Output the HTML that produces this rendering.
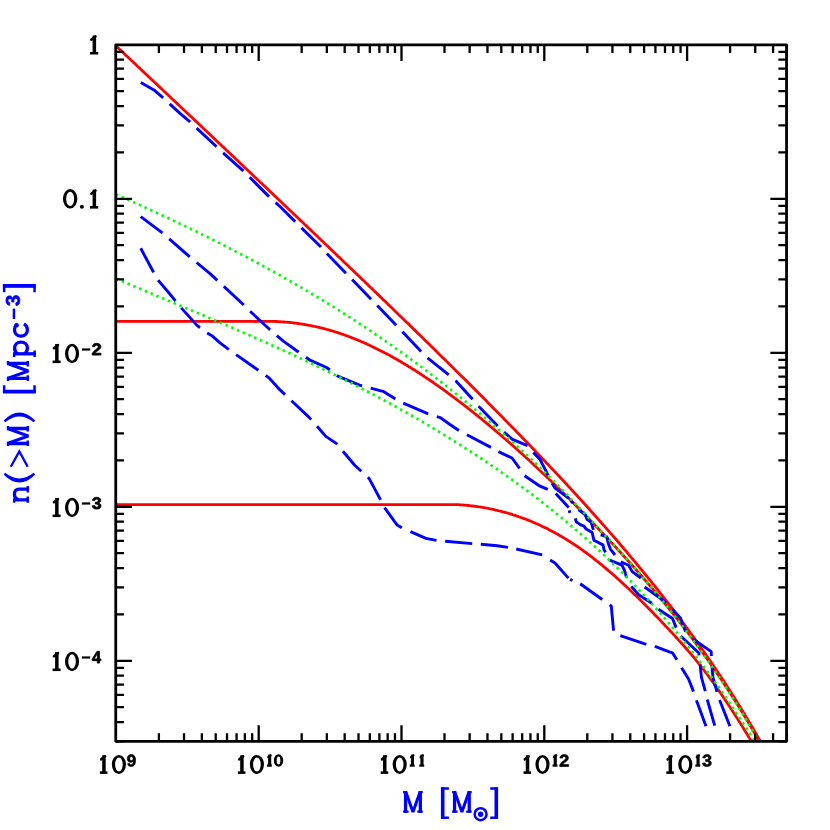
<!DOCTYPE html>
<html><head><meta charset="utf-8"><title>n(&gt;M)</title>
<style>html,body{margin:0;padding:0;background:#fff}svg{display:block}</style></head>
<body>
<svg width="830" height="830" viewBox="0 0 830 830">
<rect width="830" height="830" fill="#fff"/>
<clipPath id="c"><rect x="115.75" y="44.9" width="670.8" height="696.45"/></clipPath>
<g clip-path="url(#c)">
<path d="M116.0,45.9 L117.0,46.9 L118.0,47.8 L119.0,48.8 L120.0,49.7 L121.0,50.6 L122.0,51.6 L123.0,52.5 L124.0,53.5 L125.0,54.4 L126.0,55.4 L127.0,56.3 L128.0,57.2 L129.0,58.2 L130.0,59.1 L131.0,60.1 L132.0,61.0 L133.0,61.9 L134.0,62.9 L135.0,63.8 L136.0,64.8 L137.0,65.7 L138.0,66.7 L139.0,67.6 L140.0,68.5 L141.0,69.5 L142.0,70.4 L143.0,71.4 L144.0,72.3 L145.0,73.3 L146.0,74.2 L147.0,75.1 L148.0,76.1 L149.0,77.0 L150.0,78.0 L151.0,78.9 L152.0,79.9 L153.0,80.8 L154.0,81.7 L155.0,82.7 L156.0,83.6 L157.0,84.6 L158.0,85.5 L159.0,86.5 L160.0,87.4 L161.0,88.3 L162.0,89.3 L163.0,90.2 L164.0,91.2 L165.0,92.1 L166.0,93.1 L167.0,94.0 L168.0,94.9 L169.0,95.9 L170.0,96.8 L171.0,97.8 L172.0,98.7 L173.0,99.7 L174.0,100.6 L175.0,101.5 L176.0,102.5 L177.0,103.4 L178.0,104.4 L179.0,105.3 L180.0,106.3 L181.0,107.2 L182.0,108.2 L183.0,109.1 L184.0,110.0 L185.0,111.0 L186.0,111.9 L187.0,112.9 L188.0,113.8 L189.0,114.8 L190.0,115.7 L191.0,116.6 L192.0,117.6 L193.0,118.5 L194.0,119.5 L195.0,120.4 L196.0,121.4 L197.0,122.3 L198.0,123.3 L199.0,124.2 L200.0,125.1 L201.0,126.1 L202.0,127.0 L203.0,128.0 L204.0,128.9 L205.0,129.9 L206.0,130.8 L207.0,131.8 L208.0,132.7 L209.0,133.6 L210.0,134.6 L211.0,135.5 L212.0,136.5 L213.0,137.4 L214.0,138.4 L215.0,139.3 L216.0,140.3 L217.0,141.2 L218.0,142.2 L219.0,143.1 L220.0,144.0 L221.0,145.0 L222.0,145.9 L223.0,146.9 L224.0,147.8 L225.0,148.8 L226.0,149.7 L227.0,150.7 L228.0,151.6 L229.0,152.6 L230.0,153.5 L231.0,154.4 L232.0,155.4 L233.0,156.3 L234.0,157.3 L235.0,158.2 L236.0,159.2 L237.0,160.1 L238.0,161.1 L239.0,162.0 L240.0,163.0 L241.0,163.9 L242.0,164.9 L243.0,165.8 L244.0,166.7 L245.0,167.7 L246.0,168.6 L247.0,169.6 L248.0,170.5 L249.0,171.5 L250.0,172.4 L251.0,173.4 L252.0,174.3 L253.0,175.3 L254.0,176.2 L255.0,177.2 L256.0,178.1 L257.0,179.1 L258.0,180.0 L259.0,181.0 L260.0,181.9 L261.0,182.9 L262.0,183.8 L263.0,184.8 L264.0,185.7 L265.0,186.6 L266.0,187.6 L267.0,188.5 L268.0,189.5 L269.0,190.4 L270.0,191.4 L271.0,192.3 L272.0,193.3 L273.0,194.2 L274.0,195.2 L275.0,196.1 L276.0,197.1 L277.0,198.0 L278.0,199.0 L279.0,199.9 L280.0,200.9 L281.0,201.8 L282.0,202.8 L283.0,203.7 L284.0,204.7 L285.0,205.6 L286.0,206.6 L287.0,207.5 L288.0,208.5 L289.0,209.4 L290.0,210.4 L291.0,211.3 L292.0,212.3 L293.0,213.2 L294.0,214.2 L295.0,215.1 L296.0,216.1 L297.0,217.0 L298.0,218.0 L299.0,218.9 L300.0,219.9 L301.0,220.9 L302.0,221.8 L303.0,222.8 L304.0,223.7 L305.0,224.7 L306.0,225.6 L307.0,226.6 L308.0,227.5 L309.0,228.5 L310.0,229.4 L311.0,230.4 L312.0,231.3 L313.0,232.3 L314.0,233.2 L315.0,234.2 L316.0,235.1 L317.0,236.1 L318.0,237.1 L319.0,238.0 L320.0,239.0 L321.0,239.9 L322.0,240.9 L323.0,241.8 L324.0,242.8 L325.0,243.7 L326.0,244.7 L327.0,245.6 L328.0,246.6 L329.0,247.6 L330.0,248.5 L331.0,249.5 L332.0,250.4 L333.0,251.4 L334.0,252.3 L335.0,253.3 L336.0,254.2 L337.0,255.2 L338.0,256.2 L339.0,257.1 L340.0,258.1 L341.0,259.0 L342.0,260.0 L343.0,260.9 L344.0,261.9 L345.0,262.9 L346.0,263.8 L347.0,264.8 L348.0,265.7 L349.0,266.7 L350.0,267.7 L351.0,268.6 L352.0,269.6 L353.0,270.5 L354.0,271.5 L355.0,272.4 L356.0,273.4 L357.0,274.4 L358.0,275.3 L359.0,276.3 L360.0,277.2 L361.0,278.2 L362.0,279.2 L363.0,280.1 L364.0,281.1 L365.0,282.1 L366.0,283.0 L367.0,284.0 L368.0,284.9 L369.0,285.9 L370.0,286.9 L371.0,287.8 L372.0,288.8 L373.0,289.8 L374.0,290.7 L375.0,291.7 L376.0,292.6 L377.0,293.6 L378.0,294.6 L379.0,295.5 L380.0,296.5 L381.0,297.5 L382.0,298.4 L383.0,299.4 L384.0,300.4 L385.0,301.3 L386.0,302.3 L387.0,303.3 L388.0,304.2 L389.0,305.2 L390.0,306.2 L391.0,307.1 L392.0,308.1 L393.0,309.1 L394.0,310.0 L395.0,311.0 L396.0,312.0 L397.0,312.9 L398.0,313.9 L399.0,314.9 L400.0,315.9 L401.0,316.8 L402.0,317.8 L403.0,318.8 L404.0,319.7 L405.0,320.7 L406.0,321.7 L407.0,322.6 L408.0,323.6 L409.0,324.6 L410.0,325.6 L411.0,326.5 L412.0,327.5 L413.0,328.5 L414.0,329.5 L415.0,330.4 L416.0,331.4 L417.0,332.4 L418.0,333.4 L419.0,334.3 L420.0,335.3 L421.0,336.3 L422.0,337.3 L423.0,338.2 L424.0,339.2 L425.0,340.2 L426.0,341.2 L427.0,342.2 L428.0,343.1 L429.0,344.1 L430.0,345.1 L431.0,346.1 L432.0,347.0 L433.0,348.0 L434.0,349.0 L435.0,350.0 L436.0,351.0 L437.0,352.0 L438.0,352.9 L439.0,353.9 L440.0,354.9 L441.0,355.9 L442.0,356.9 L443.0,357.9 L444.0,358.8 L445.0,359.8 L446.0,360.8 L447.0,361.8 L448.0,362.8 L449.0,363.8 L450.0,364.8 L451.0,365.7 L452.0,366.7 L453.0,367.7 L454.0,368.7 L455.0,369.7 L456.0,370.7 L457.0,371.7 L458.0,372.7 L459.0,373.7 L460.0,374.7 L461.0,375.7 L462.0,376.6 L463.0,377.6 L464.0,378.6 L465.0,379.6 L466.0,380.6 L467.0,381.6 L468.0,382.6 L469.0,383.6 L470.0,384.6 L471.0,385.6 L472.0,386.6 L473.0,387.6 L474.0,388.6 L475.0,389.6 L476.0,390.6 L477.0,391.6 L478.0,392.6 L479.0,393.6 L480.0,394.6 L481.0,395.6 L482.0,396.6 L483.0,397.6 L484.0,398.6 L485.0,399.6 L486.0,400.6 L487.0,401.6 L488.0,402.7 L489.0,403.7 L490.0,404.7 L491.0,405.7 L492.0,406.7 L493.0,407.7 L494.0,408.7 L495.0,409.7 L496.0,410.7 L497.0,411.7 L498.0,412.8 L499.0,413.8 L500.0,414.8 L501.0,415.8 L502.0,416.8 L503.0,417.8 L504.0,418.9 L505.0,419.9 L506.0,420.9 L507.0,421.9 L508.0,422.9 L509.0,424.0 L510.0,425.0 L511.0,426.0 L512.0,427.0 L513.0,428.1 L514.0,429.1 L515.0,430.1 L516.0,431.1 L517.0,432.2 L518.0,433.2 L519.0,434.2 L520.0,435.3 L521.0,436.3 L522.0,437.3 L523.0,438.4 L524.0,439.4 L525.0,440.4 L526.0,441.5 L527.0,442.5 L528.0,443.5 L529.0,444.6 L530.0,445.6 L531.0,446.6 L532.0,447.7 L533.0,448.7 L534.0,449.8 L535.0,450.8 L536.0,451.9 L537.0,452.9 L538.0,454.0 L539.0,455.0 L540.0,456.1 L541.0,457.1 L542.0,458.2 L543.0,459.2 L544.0,460.3 L545.0,461.3 L546.0,462.4 L547.0,463.4 L548.0,464.5 L549.0,465.5 L550.0,466.6 L551.0,467.7 L552.0,468.7 L553.0,469.8 L554.0,470.8 L555.0,471.9 L556.0,473.0 L557.0,474.0 L558.0,475.1 L559.0,476.2 L560.0,477.3 L561.0,478.3 L562.0,479.4 L563.0,480.5 L564.0,481.5 L565.0,482.6 L566.0,483.7 L567.0,484.8 L568.0,485.9 L569.0,486.9 L570.0,488.0 L571.0,489.1 L572.0,490.2 L573.0,491.3 L574.0,492.4 L575.0,493.5 L576.0,494.6 L577.0,495.6 L578.0,496.7 L579.0,497.8 L580.0,498.9 L581.0,500.0 L582.0,501.1 L583.0,502.2 L584.0,503.3 L585.0,504.4 L586.0,505.5 L587.0,506.7 L588.0,507.8 L589.0,508.9 L590.0,510.0 L591.0,511.1 L592.0,512.2 L593.0,513.3 L594.0,514.5 L595.0,515.6 L596.0,516.7 L597.0,517.8 L598.0,518.9 L599.0,520.1 L600.0,521.2 L601.0,522.3 L602.0,523.5 L603.0,524.6 L604.0,525.7 L605.0,526.9 L606.0,528.0 L607.0,529.2 L608.0,530.3 L609.0,531.4 L610.0,532.6 L611.0,533.7 L612.0,534.9 L613.0,536.0 L614.0,537.2 L615.0,538.4 L616.0,539.5 L617.0,540.7 L618.0,541.8 L619.0,543.0 L620.0,544.2 L621.0,545.3 L622.0,546.5 L623.0,547.7 L624.0,548.9 L625.0,550.0 L626.0,551.2 L627.0,552.4 L628.0,553.6 L629.0,554.8 L630.0,556.0 L631.0,557.1 L632.0,558.3 L633.0,559.5 L634.0,560.7 L635.0,561.9 L636.0,563.1 L637.0,564.3 L638.0,565.5 L639.0,566.8 L640.0,568.0 L641.0,569.2 L642.0,570.4 L643.0,571.6 L644.0,572.8 L645.0,574.1 L646.0,575.3 L647.0,576.5 L648.0,577.8 L649.0,579.0 L650.0,580.2 L651.0,581.5 L652.0,582.7 L653.0,584.0 L654.0,585.2 L655.0,586.5 L656.0,587.7 L657.0,589.0 L658.0,590.2 L659.0,591.5 L660.0,592.8 L661.0,594.0 L662.0,595.3 L663.0,596.6 L664.0,597.9 L665.0,599.2 L666.0,600.4 L667.0,601.7 L668.0,603.0 L669.0,604.3 L670.0,605.6 L671.0,606.9 L672.0,608.2 L673.0,609.5 L674.0,610.9 L675.0,612.2 L676.0,613.5 L677.0,614.8 L678.0,616.1 L679.0,617.5 L680.0,618.8 L681.0,620.1 L682.0,621.5 L683.0,622.8 L684.0,624.2 L685.0,625.5 L686.0,626.9 L687.0,628.2 L688.0,629.6 L689.0,631.0 L690.0,632.3 L691.0,633.7 L692.0,635.1 L693.0,636.5 L694.0,637.9 L695.0,639.2 L696.0,640.6 L697.0,642.0 L698.0,643.4 L699.0,644.9 L700.0,646.3 L701.0,647.7 L702.0,649.1 L703.0,650.5 L704.0,652.0 L705.0,653.4 L706.0,654.8 L707.0,656.3 L708.0,657.7 L709.0,659.2 L710.0,660.6 L711.0,662.1 L712.0,663.6 L713.0,665.0 L714.0,666.5 L715.0,668.0 L716.0,669.5 L717.0,671.0 L718.0,672.5 L719.0,674.0 L720.0,675.5 L721.0,677.0 L722.0,678.5 L723.0,680.0 L724.0,681.6 L725.0,683.1 L726.0,684.6 L727.0,686.2 L728.0,687.7 L729.0,689.3 L730.0,690.9 L731.0,692.4 L732.0,694.0 L733.0,695.6 L734.0,697.2 L735.0,698.8 L736.0,700.3 L737.0,702.0 L738.0,703.6 L739.0,705.2 L740.0,706.8 L741.0,708.4 L742.0,710.1 L743.0,711.7 L744.0,713.3 L745.0,715.0 L746.0,716.7 L747.0,718.3 L748.0,720.0 L749.0,721.7 L750.0,723.4 L751.0,725.1 L752.0,726.8 L753.0,728.5 L754.0,730.2 L755.0,731.9 L756.0,733.6 L757.0,735.4 L758.0,737.1 L759.0,738.9 L760.0,740.6 L761.0,742.4 L762.0,744.2" fill="none" stroke="#ff0000" stroke-width="2.8" stroke-linejoin="round"/>
<path d="M116.0,321.4 L117.0,321.4 L118.0,321.4 L119.0,321.4 L120.0,321.4 L121.0,321.4 L122.0,321.4 L123.0,321.4 L124.0,321.4 L125.0,321.4 L126.0,321.4 L127.0,321.4 L128.0,321.4 L129.0,321.4 L130.0,321.4 L131.0,321.4 L132.0,321.4 L133.0,321.4 L134.0,321.4 L135.0,321.4 L136.0,321.4 L137.0,321.4 L138.0,321.4 L139.0,321.4 L140.0,321.4 L141.0,321.4 L142.0,321.4 L143.0,321.4 L144.0,321.4 L145.0,321.4 L146.0,321.4 L147.0,321.4 L148.0,321.4 L149.0,321.4 L150.0,321.4 L151.0,321.4 L152.0,321.4 L153.0,321.4 L154.0,321.4 L155.0,321.4 L156.0,321.4 L157.0,321.4 L158.0,321.4 L159.0,321.4 L160.0,321.4 L161.0,321.4 L162.0,321.4 L163.0,321.4 L164.0,321.4 L165.0,321.4 L166.0,321.4 L167.0,321.4 L168.0,321.4 L169.0,321.4 L170.0,321.4 L171.0,321.4 L172.0,321.4 L173.0,321.4 L174.0,321.4 L175.0,321.4 L176.0,321.4 L177.0,321.4 L178.0,321.4 L179.0,321.4 L180.0,321.4 L181.0,321.4 L182.0,321.4 L183.0,321.4 L184.0,321.4 L185.0,321.4 L186.0,321.4 L187.0,321.4 L188.0,321.4 L189.0,321.4 L190.0,321.4 L191.0,321.4 L192.0,321.4 L193.0,321.4 L194.0,321.4 L195.0,321.4 L196.0,321.4 L197.0,321.4 L198.0,321.4 L199.0,321.4 L200.0,321.4 L201.0,321.4 L202.0,321.4 L203.0,321.4 L204.0,321.4 L205.0,321.4 L206.0,321.4 L207.0,321.4 L208.0,321.4 L209.0,321.4 L210.0,321.4 L211.0,321.4 L212.0,321.4 L213.0,321.4 L214.0,321.4 L215.0,321.4 L216.0,321.4 L217.0,321.4 L218.0,321.4 L219.0,321.4 L220.0,321.4 L221.0,321.4 L222.0,321.4 L223.0,321.4 L224.0,321.4 L225.0,321.4 L226.0,321.4 L227.0,321.4 L228.0,321.4 L229.0,321.4 L230.0,321.4 L231.0,321.4 L232.0,321.4 L233.0,321.4 L234.0,321.4 L235.0,321.4 L236.0,321.4 L237.0,321.4 L238.0,321.4 L239.0,321.4 L240.0,321.4 L241.0,321.4 L242.0,321.4 L243.0,321.4 L244.0,321.4 L245.0,321.4 L246.0,321.4 L247.0,321.4 L248.0,321.4 L249.0,321.4 L250.0,321.4 L251.0,321.4 L252.0,321.4 L253.0,321.4 L254.0,321.4 L255.0,321.5 L256.0,321.5 L257.0,321.4 L258.0,321.4 L259.0,321.4 L260.0,321.4 L261.0,321.4 L262.0,321.4 L263.0,321.4 L264.0,321.4 L265.0,321.4 L266.0,321.4 L267.0,321.4 L268.0,321.4 L269.0,321.4 L270.0,321.4 L271.0,321.4 L272.0,321.4 L273.0,321.4 L274.0,321.4 L275.0,321.4 L276.0,321.5 L277.0,321.5 L278.0,321.6 L279.0,321.6 L280.0,321.7 L281.0,321.8 L282.0,321.8 L283.0,321.9 L284.0,322.0 L285.0,322.1 L286.0,322.1 L287.0,322.2 L288.0,322.3 L289.0,322.4 L290.0,322.5 L291.0,322.6 L292.0,322.7 L293.0,322.9 L294.0,323.0 L295.0,323.1 L296.0,323.2 L297.0,323.4 L298.0,323.5 L299.0,323.6 L300.0,323.8 L301.0,323.9 L302.0,324.1 L303.0,324.3 L304.0,324.4 L305.0,324.6 L306.0,324.8 L307.0,324.9 L308.0,325.1 L309.0,325.3 L310.0,325.5 L311.0,325.7 L312.0,325.9 L313.0,326.1 L314.0,326.3 L315.0,326.5 L316.0,326.7 L317.0,327.0 L318.0,327.2 L319.0,327.4 L320.0,327.7 L321.0,327.9 L322.0,328.2 L323.0,328.4 L324.0,328.7 L325.0,328.9 L326.0,329.2 L327.0,329.5 L328.0,329.7 L329.0,330.0 L330.0,330.3 L331.0,330.6 L332.0,330.9 L333.0,331.2 L334.0,331.5 L335.0,331.8 L336.0,332.1 L337.0,332.4 L338.0,332.7 L339.0,333.1 L340.0,333.4 L341.0,333.7 L342.0,334.1 L343.0,334.4 L344.0,334.8 L345.0,335.1 L346.0,335.5 L347.0,335.9 L348.0,336.2 L349.0,336.6 L350.0,337.0 L351.0,337.4 L352.0,337.8 L353.0,338.1 L354.0,338.5 L355.0,338.9 L356.0,339.4 L357.0,339.8 L358.0,340.2 L359.0,340.6 L360.0,341.0 L361.0,341.4 L362.0,341.9 L363.0,342.3 L364.0,342.8 L365.0,343.2 L366.0,343.6 L367.0,344.1 L368.0,344.6 L369.0,345.0 L370.0,345.5 L371.0,346.0 L372.0,346.4 L373.0,346.9 L374.0,347.4 L375.0,347.9 L376.0,348.4 L377.0,348.9 L378.0,349.4 L379.0,349.9 L380.0,350.4 L381.0,350.9 L382.0,351.4 L383.0,351.9 L384.0,352.4 L385.0,353.0 L386.0,353.5 L387.0,354.0 L388.0,354.6 L389.0,355.1 L390.0,355.6 L391.0,356.2 L392.0,356.7 L393.0,357.3 L394.0,357.9 L395.0,358.4 L396.0,359.0 L397.0,359.6 L398.0,360.1 L399.0,360.7 L400.0,361.3 L401.0,361.9 L402.0,362.5 L403.0,363.1 L404.0,363.7 L405.0,364.3 L406.0,364.9 L407.0,365.5 L408.0,366.1 L409.0,366.7 L410.0,367.3 L411.0,367.9 L412.0,368.6 L413.0,369.2 L414.0,369.8 L415.0,370.4 L416.0,371.1 L417.0,371.7 L418.0,372.4 L419.0,373.0 L420.0,373.7 L421.0,374.3 L422.0,375.0 L423.0,375.6 L424.0,376.3 L425.0,377.0 L426.0,377.6 L427.0,378.3 L428.0,379.0 L429.0,379.6 L430.0,380.3 L431.0,381.0 L432.0,381.7 L433.0,382.4 L434.0,383.1 L435.0,383.8 L436.0,384.5 L437.0,385.2 L438.0,385.9 L439.0,386.6 L440.0,387.3 L441.0,388.0 L442.0,388.7 L443.0,389.4 L444.0,390.2 L445.0,390.9 L446.0,391.6 L447.0,392.3 L448.0,393.1 L449.0,393.8 L450.0,394.5 L451.0,395.3 L452.0,396.0 L453.0,396.8 L454.0,397.5 L455.0,398.3 L456.0,399.0 L457.0,399.8 L458.0,400.5 L459.0,401.3 L460.0,402.0 L461.0,402.8 L462.0,403.6 L463.0,404.3 L464.0,405.1 L465.0,405.9 L466.0,406.7 L467.0,407.4 L468.0,408.2 L469.0,409.0 L470.0,409.8 L471.0,410.6 L472.0,411.4 L473.0,412.2 L474.0,413.0 L475.0,413.8 L476.0,414.6 L477.0,415.4 L478.0,416.2 L479.0,417.0 L480.0,417.8 L481.0,418.6 L482.0,419.4 L483.0,420.3 L484.0,421.1 L485.0,421.9 L486.0,422.7 L487.0,423.6 L488.0,424.4 L489.0,425.2 L490.0,426.1 L491.0,426.9 L492.0,427.7 L493.0,428.6 L494.0,429.4 L495.0,430.3 L496.0,431.1 L497.0,432.0 L498.0,432.8 L499.0,433.7 L500.0,434.5 L501.0,435.4 L502.0,436.2 L503.0,437.1 L504.0,438.0 L505.0,438.8 L506.0,439.7 L507.0,440.6 L508.0,441.5 L509.0,442.3 L510.0,443.2 L511.0,444.1 L512.0,445.0 L513.0,445.9 L514.0,446.7 L515.0,447.6 L516.0,448.5 L517.0,449.4 L518.0,450.3 L519.0,451.2 L520.0,452.1 L521.0,453.0 L522.0,453.9 L523.0,454.8 L524.0,455.7 L525.0,456.6 L526.0,457.6 L527.0,458.5 L528.0,459.4 L529.0,460.3 L530.0,461.2 L531.0,462.1 L532.0,463.1 L533.0,464.0 L534.0,464.9 L535.0,465.9 L536.0,466.8 L537.0,467.7 L538.0,468.7 L539.0,469.6 L540.0,470.5 L541.0,471.5 L542.0,472.4 L543.0,473.4 L544.0,474.3 L545.0,475.3 L546.0,476.2 L547.0,477.2 L548.0,478.1 L549.0,479.1 L550.0,480.0 L551.0,481.0 L552.0,482.0 L553.0,482.9 L554.0,483.9 L555.0,484.9 L556.0,485.8 L557.0,486.8 L558.0,487.8 L559.0,488.8 L560.0,489.7 L561.0,490.7 L562.0,491.7 L563.0,492.7 L564.0,493.7 L565.0,494.7 L566.0,495.7 L567.0,496.7 L568.0,497.6 L569.0,498.6 L570.0,499.6 L571.0,500.6 L572.0,501.6 L573.0,502.6 L574.0,503.6 L575.0,504.7 L576.0,505.7 L577.0,506.7 L578.0,507.7 L579.0,508.7 L580.0,509.7 L581.0,510.7 L582.0,511.8 L583.0,512.8 L584.0,513.8 L585.0,514.8 L586.0,515.9 L587.0,516.9 L588.0,517.9 L589.0,518.9 L590.0,520.0 L591.0,521.0 L592.0,522.1 L593.0,523.1 L594.0,524.1 L595.0,525.2 L596.0,526.2 L597.0,527.3 L598.0,528.3 L599.0,529.4 L600.0,530.4 L601.0,531.5 L602.0,532.6 L603.0,533.6 L604.0,534.7 L605.0,535.7 L606.0,536.8 L607.0,537.9 L608.0,538.9 L609.0,540.0 L610.0,541.1 L611.0,542.2 L612.0,543.2 L613.0,544.3 L614.0,545.4 L615.0,546.5 L616.0,547.6 L617.0,548.6 L618.0,549.7 L619.0,550.8 L620.0,551.9 L621.0,553.0 L622.0,554.1 L623.0,555.2 L624.0,556.3 L625.0,557.4 L626.0,558.5 L627.0,559.6 L628.0,560.7 L629.0,561.8 L630.0,563.0 L631.0,564.1 L632.0,565.2 L633.0,566.3 L634.0,567.4 L635.0,568.6 L636.0,569.7 L637.0,570.8 L638.0,572.0 L639.0,573.1 L640.0,574.2 L641.0,575.4 L642.0,576.5 L643.0,577.7 L644.0,578.8 L645.0,580.0 L646.0,581.1 L647.0,582.3 L648.0,583.5 L649.0,584.6 L650.0,585.8 L651.0,587.0 L652.0,588.1 L653.0,589.3 L654.0,590.5 L655.0,591.7 L656.0,592.9 L657.0,594.1 L658.0,595.3 L659.0,596.5 L660.0,597.7 L661.0,598.9 L662.0,600.1 L663.0,601.3 L664.0,602.5 L665.0,603.7 L666.0,604.9 L667.0,606.2 L668.0,607.4 L669.0,608.6 L670.0,609.9 L671.0,611.1 L672.0,612.4 L673.0,613.6 L674.0,614.9 L675.0,616.1 L676.0,617.4 L677.0,618.6 L678.0,619.9 L679.0,621.2 L680.0,622.5 L681.0,623.7 L682.0,625.0 L683.0,626.3 L684.0,627.6 L685.0,628.9 L686.0,630.2 L687.0,631.5 L688.0,632.8 L689.0,634.2 L690.0,635.5 L691.0,636.8 L692.0,638.1 L693.0,639.5 L694.0,640.8 L695.0,642.2 L696.0,643.5 L697.0,644.9 L698.0,646.2 L699.0,647.6 L700.0,649.0 L701.0,650.3 L702.0,651.7 L703.0,653.1 L704.0,654.5 L705.0,655.9 L706.0,657.3 L707.0,658.7 L708.0,660.1 L709.0,661.5 L710.0,663.0 L711.0,664.4 L712.0,665.8 L713.0,667.3 L714.0,668.7 L715.0,670.2 L716.0,671.7 L717.0,673.1 L718.0,674.6 L719.0,676.1 L720.0,677.6 L721.0,679.0 L722.0,680.5 L723.0,682.1 L724.0,683.6 L725.0,685.1 L726.0,686.6 L727.0,688.1 L728.0,689.7 L729.0,691.2 L730.0,692.8 L731.0,694.3 L732.0,695.9 L733.0,697.5 L734.0,699.0 L735.0,700.6 L736.0,702.2 L737.0,703.8 L738.0,705.4 L739.0,707.0 L740.0,708.7 L741.0,710.3 L742.0,711.9 L743.0,713.6 L744.0,715.2 L745.0,716.9 L746.0,718.6 L747.0,720.2 L748.0,721.9 L749.0,723.6 L750.0,725.3 L751.0,727.0 L752.0,728.8 L753.0,730.5 L754.0,732.2 L755.0,734.0 L756.0,735.7 L757.0,737.5 L758.0,739.2 L759.0,741.0 L760.0,742.8 L761.0,744.6 L762.0,746.4" fill="none" stroke="#ff0000" stroke-width="2.8" stroke-linejoin="round"/>
<path d="M116.0,504.6 L117.0,504.6 L118.0,504.6 L119.0,504.6 L120.0,504.6 L121.0,504.6 L122.0,504.6 L123.0,504.6 L124.0,504.6 L125.0,504.6 L126.0,504.6 L127.0,504.6 L128.0,504.6 L129.0,504.6 L130.0,504.6 L131.0,504.6 L132.0,504.6 L133.0,504.6 L134.0,504.6 L135.0,504.6 L136.0,504.6 L137.0,504.6 L138.0,504.6 L139.0,504.6 L140.0,504.6 L141.0,504.6 L142.0,504.6 L143.0,504.6 L144.0,504.6 L145.0,504.6 L146.0,504.6 L147.0,504.6 L148.0,504.6 L149.0,504.6 L150.0,504.6 L151.0,504.6 L152.0,504.6 L153.0,504.6 L154.0,504.6 L155.0,504.6 L156.0,504.6 L157.0,504.6 L158.0,504.6 L159.0,504.6 L160.0,504.6 L161.0,504.6 L162.0,504.6 L163.0,504.6 L164.0,504.6 L165.0,504.6 L166.0,504.6 L167.0,504.6 L168.0,504.6 L169.0,504.6 L170.0,504.6 L171.0,504.6 L172.0,504.6 L173.0,504.6 L174.0,504.6 L175.0,504.6 L176.0,504.6 L177.0,504.6 L178.0,504.6 L179.0,504.6 L180.0,504.6 L181.0,504.6 L182.0,504.6 L183.0,504.6 L184.0,504.6 L185.0,504.6 L186.0,504.6 L187.0,504.6 L188.0,504.6 L189.0,504.6 L190.0,504.6 L191.0,504.6 L192.0,504.6 L193.0,504.6 L194.0,504.6 L195.0,504.6 L196.0,504.6 L197.0,504.6 L198.0,504.6 L199.0,504.6 L200.0,504.6 L201.0,504.6 L202.0,504.6 L203.0,504.6 L204.0,504.6 L205.0,504.6 L206.0,504.6 L207.0,504.6 L208.0,504.6 L209.0,504.6 L210.0,504.6 L211.0,504.6 L212.0,504.6 L213.0,504.6 L214.0,504.6 L215.0,504.6 L216.0,504.6 L217.0,504.6 L218.0,504.6 L219.0,504.6 L220.0,504.6 L221.0,504.6 L222.0,504.6 L223.0,504.6 L224.0,504.6 L225.0,504.6 L226.0,504.6 L227.0,504.6 L228.0,504.6 L229.0,504.6 L230.0,504.6 L231.0,504.6 L232.0,504.6 L233.0,504.6 L234.0,504.6 L235.0,504.6 L236.0,504.6 L237.0,504.6 L238.0,504.6 L239.0,504.6 L240.0,504.6 L241.0,504.6 L242.0,504.6 L243.0,504.6 L244.0,504.6 L245.0,504.6 L246.0,504.6 L247.0,504.6 L248.0,504.6 L249.0,504.6 L250.0,504.6 L251.0,504.6 L252.0,504.6 L253.0,504.6 L254.0,504.6 L255.0,504.6 L256.0,504.6 L257.0,504.6 L258.0,504.6 L259.0,504.6 L260.0,504.6 L261.0,504.6 L262.0,504.6 L263.0,504.6 L264.0,504.6 L265.0,504.6 L266.0,504.6 L267.0,504.6 L268.0,504.6 L269.0,504.6 L270.0,504.6 L271.0,504.6 L272.0,504.6 L273.0,504.6 L274.0,504.6 L275.0,504.6 L276.0,504.6 L277.0,504.6 L278.0,504.6 L279.0,504.6 L280.0,504.6 L281.0,504.6 L282.0,504.6 L283.0,504.6 L284.0,504.6 L285.0,504.6 L286.0,504.6 L287.0,504.6 L288.0,504.6 L289.0,504.6 L290.0,504.6 L291.0,504.6 L292.0,504.6 L293.0,504.6 L294.0,504.6 L295.0,504.6 L296.0,504.6 L297.0,504.6 L298.0,504.6 L299.0,504.6 L300.0,504.6 L301.0,504.6 L302.0,504.6 L303.0,504.6 L304.0,504.6 L305.0,504.6 L306.0,504.6 L307.0,504.6 L308.0,504.6 L309.0,504.6 L310.0,504.6 L311.0,504.6 L312.0,504.6 L313.0,504.6 L314.0,504.6 L315.0,504.6 L316.0,504.6 L317.0,504.6 L318.0,504.6 L319.0,504.6 L320.0,504.6 L321.0,504.6 L322.0,504.6 L323.0,504.6 L324.0,504.6 L325.0,504.6 L326.0,504.6 L327.0,504.6 L328.0,504.6 L329.0,504.6 L330.0,504.6 L331.0,504.6 L332.0,504.6 L333.0,504.6 L334.0,504.6 L335.0,504.6 L336.0,504.6 L337.0,504.6 L338.0,504.6 L339.0,504.6 L340.0,504.6 L341.0,504.6 L342.0,504.6 L343.0,504.6 L344.0,504.6 L345.0,504.6 L346.0,504.6 L347.0,504.6 L348.0,504.6 L349.0,504.6 L350.0,504.6 L351.0,504.6 L352.0,504.6 L353.0,504.6 L354.0,504.6 L355.0,504.6 L356.0,504.6 L357.0,504.6 L358.0,504.6 L359.0,504.6 L360.0,504.6 L361.0,504.6 L362.0,504.6 L363.0,504.6 L364.0,504.6 L365.0,504.6 L366.0,504.6 L367.0,504.6 L368.0,504.6 L369.0,504.6 L370.0,504.6 L371.0,504.6 L372.0,504.6 L373.0,504.6 L374.0,504.6 L375.0,504.6 L376.0,504.6 L377.0,504.6 L378.0,504.6 L379.0,504.6 L380.0,504.6 L381.0,504.6 L382.0,504.6 L383.0,504.6 L384.0,504.6 L385.0,504.6 L386.0,504.6 L387.0,504.6 L388.0,504.6 L389.0,504.6 L390.0,504.6 L391.0,504.6 L392.0,504.6 L393.0,504.6 L394.0,504.6 L395.0,504.6 L396.0,504.6 L397.0,504.6 L398.0,504.6 L399.0,504.6 L400.0,504.6 L401.0,504.6 L402.0,504.6 L403.0,504.6 L404.0,504.6 L405.0,504.6 L406.0,504.6 L407.0,504.6 L408.0,504.6 L409.0,504.6 L410.0,504.6 L411.0,504.6 L412.0,504.6 L413.0,504.6 L414.0,504.6 L415.0,504.6 L416.0,504.6 L417.0,504.6 L418.0,504.6 L419.0,504.6 L420.0,504.6 L421.0,504.6 L422.0,504.6 L423.0,504.6 L424.0,504.6 L425.0,504.6 L426.0,504.6 L427.0,504.6 L428.0,504.6 L429.0,504.6 L430.0,504.6 L431.0,504.6 L432.0,504.6 L433.0,504.6 L434.0,504.6 L435.0,504.6 L436.0,504.6 L437.0,504.6 L438.0,504.6 L439.0,504.6 L440.0,504.6 L441.0,504.6 L442.0,504.6 L443.0,504.6 L444.0,504.6 L445.0,504.6 L446.0,504.6 L447.0,504.6 L448.0,504.6 L449.0,504.6 L450.0,504.6 L451.0,504.6 L452.0,504.6 L453.0,504.6 L454.0,504.6 L455.0,504.6 L456.0,504.6 L457.0,504.6 L458.0,504.7 L459.0,504.7 L460.0,504.8 L461.0,504.8 L462.0,504.9 L463.0,505.0 L464.0,505.1 L465.0,505.2 L466.0,505.2 L467.0,505.3 L468.0,505.4 L469.0,505.5 L470.0,505.7 L471.0,505.8 L472.0,505.9 L473.0,506.0 L474.0,506.1 L475.0,506.3 L476.0,506.4 L477.0,506.5 L478.0,506.7 L479.0,506.8 L480.0,507.0 L481.0,507.1 L482.0,507.3 L483.0,507.5 L484.0,507.6 L485.0,507.8 L486.0,508.0 L487.0,508.2 L488.0,508.4 L489.0,508.6 L490.0,508.8 L491.0,509.0 L492.0,509.2 L493.0,509.4 L494.0,509.6 L495.0,509.8 L496.0,510.1 L497.0,510.3 L498.0,510.6 L499.0,510.8 L500.0,511.0 L501.0,511.3 L502.0,511.6 L503.0,511.8 L504.0,512.1 L505.0,512.4 L506.0,512.7 L507.0,512.9 L508.0,513.2 L509.0,513.5 L510.0,513.8 L511.0,514.1 L512.0,514.4 L513.0,514.8 L514.0,515.1 L515.0,515.4 L516.0,515.7 L517.0,516.1 L518.0,516.4 L519.0,516.8 L520.0,517.1 L521.0,517.5 L522.0,517.8 L523.0,518.2 L524.0,518.6 L525.0,518.9 L526.0,519.3 L527.0,519.7 L528.0,520.1 L529.0,520.5 L530.0,520.9 L531.0,521.3 L532.0,521.7 L533.0,522.2 L534.0,522.6 L535.0,523.0 L536.0,523.5 L537.0,523.9 L538.0,524.3 L539.0,524.8 L540.0,525.3 L541.0,525.7 L542.0,526.2 L543.0,526.7 L544.0,527.2 L545.0,527.6 L546.0,528.1 L547.0,528.6 L548.0,529.1 L549.0,529.7 L550.0,530.2 L551.0,530.7 L552.0,531.2 L553.0,531.8 L554.0,532.3 L555.0,532.8 L556.0,533.4 L557.0,533.9 L558.0,534.5 L559.0,535.1 L560.0,535.7 L561.0,536.2 L562.0,536.8 L563.0,537.4 L564.0,538.0 L565.0,538.6 L566.0,539.2 L567.0,539.8 L568.0,540.5 L569.0,541.1 L570.0,541.7 L571.0,542.4 L572.0,543.0 L573.0,543.7 L574.0,544.3 L575.0,545.0 L576.0,545.7 L577.0,546.3 L578.0,547.0 L579.0,547.7 L580.0,548.4 L581.0,549.1 L582.0,549.8 L583.0,550.5 L584.0,551.3 L585.0,552.0 L586.0,552.7 L587.0,553.5 L588.0,554.2 L589.0,554.9 L590.0,555.7 L591.0,556.5 L592.0,557.2 L593.0,558.0 L594.0,558.8 L595.0,559.6 L596.0,560.4 L597.0,561.1 L598.0,561.9 L599.0,562.7 L600.0,563.6 L601.0,564.4 L602.0,565.2 L603.0,566.0 L604.0,566.8 L605.0,567.7 L606.0,568.5 L607.0,569.4 L608.0,570.2 L609.0,571.1 L610.0,571.9 L611.0,572.8 L612.0,573.7 L613.0,574.5 L614.0,575.4 L615.0,576.3 L616.0,577.2 L617.0,578.1 L618.0,579.0 L619.0,579.9 L620.0,580.8 L621.0,581.7 L622.0,582.6 L623.0,583.5 L624.0,584.5 L625.0,585.4 L626.0,586.3 L627.0,587.2 L628.0,588.2 L629.0,589.1 L630.0,590.1 L631.0,591.0 L632.0,592.0 L633.0,592.9 L634.0,593.9 L635.0,594.9 L636.0,595.8 L637.0,596.8 L638.0,597.8 L639.0,598.8 L640.0,599.8 L641.0,600.7 L642.0,601.7 L643.0,602.7 L644.0,603.7 L645.0,604.7 L646.0,605.7 L647.0,606.7 L648.0,607.7 L649.0,608.8 L650.0,609.8 L651.0,610.8 L652.0,611.8 L653.0,612.8 L654.0,613.9 L655.0,614.9 L656.0,615.9 L657.0,617.0 L658.0,618.0 L659.0,619.1 L660.0,620.1 L661.0,621.1 L662.0,622.2 L663.0,623.3 L664.0,624.3 L665.0,625.4 L666.0,626.4 L667.0,627.5 L668.0,628.6 L669.0,629.6 L670.0,630.7 L671.0,631.8 L672.0,632.8 L673.0,633.9 L674.0,635.0 L675.0,636.1 L676.0,637.2 L677.0,638.3 L678.0,639.4 L679.0,640.5 L680.0,641.6 L681.0,642.7 L682.0,643.8 L683.0,644.9 L684.0,646.0 L685.0,647.2 L686.0,648.3 L687.0,649.5 L688.0,650.6 L689.0,651.8 L690.0,652.9 L691.0,654.1 L692.0,655.3 L693.0,656.5 L694.0,657.7 L695.0,658.9 L696.0,660.1 L697.0,661.4 L698.0,662.6 L699.0,663.9 L700.0,665.1 L701.0,666.4 L702.0,667.7 L703.0,668.9 L704.0,670.2 L705.0,671.6 L706.0,672.9 L707.0,674.2 L708.0,675.5 L709.0,676.9 L710.0,678.2 L711.0,679.6 L712.0,681.0 L713.0,682.3 L714.0,683.7 L715.0,685.1 L716.0,686.5 L717.0,688.0 L718.0,689.4 L719.0,690.8 L720.0,692.3 L721.0,693.7 L722.0,695.2 L723.0,696.7 L724.0,698.1 L725.0,699.6 L726.0,701.1 L727.0,702.6 L728.0,704.1 L729.0,705.6 L730.0,707.2 L731.0,708.7 L732.0,710.2 L733.0,711.8 L734.0,713.3 L735.0,714.9 L736.0,716.5 L737.0,718.0 L738.0,719.6 L739.0,721.2 L740.0,722.8 L741.0,724.4 L742.0,726.0 L743.0,727.6 L744.0,729.2 L745.0,730.9 L746.0,732.5 L747.0,734.1 L748.0,735.8 L749.0,737.4 L750.0,739.1 L751.0,740.7 L752.0,742.4 L753.0,744.1 L754.0,745.7 L755.0,747.4 L756.0,749.1 L757.0,750.8 L758.0,752.5 L759.0,754.2 L760.0,755.9 L761.0,757.6 L762.0,759.3" fill="none" stroke="#ff0000" stroke-width="2.8" stroke-linejoin="round"/>
<path d="M140.8,82.4 L153.9,89.9 L162.3,97.1 L163.1,97.9 M169.7,103.9 L180.0,113.4 L189.8,121.7 L190.1,122.0 M196.6,128.1 L216.1,146.3 L216.6,146.7 M223.1,152.8 L243.0,170.6 L243.4,171.0 M249.7,177.3 L269.0,196.6 M275.6,202.6 L280.0,206.5 L295.2,221.6 M301.5,227.9 L320.2,246.3 L320.9,247.1 M326.9,253.6 L345.9,273.2 M352.1,279.6 L371.1,299.2 M377.3,305.6 L393.3,322.2 L396.2,325.3 M402.4,331.7 L420.2,350.6 L421.1,351.5 M427.5,357.8 L446.3,372.9 L448.7,374.9 M455.5,380.7 L455.9,381.0 L472.6,399.3 M478.6,406.3 L497.7,425.9 M504.0,432.2 L512.4,439.4 L527.5,445.6 M533.3,452.5 L540.0,459.5 L548.2,475.4 M552.0,483.3 L555.1,488.1 L568.9,498.3 M570.7,500.5 L573.1,503.3 M578.6,509.8 L585.2,514.6 L587.0,519.4 L591.2,522.4 L593.4,529.8 M600.6,534.9 L606.8,536.6 L608.2,543.2 L610.6,549.4 L615.0,555.0 M620.8,561.8 L628.6,565.3 L632.2,571.6 L640.8,578.2 M644.6,587.0 L666.3,602.7 M672.3,609.3 L680.4,618.0 L685.6,631.8 M692.7,638.7 L711.2,651.6 L711.4,656.0 M711.9,665.5 L712.9,677.1 L717.0,691.8 M719.6,700.0 L729.9,726.2" fill="none" stroke="#0000ff" stroke-width="2.9" stroke-linejoin="round"/>
<path d="M140.7,216.6 L162.4,232.8 L162.6,232.9 M169.2,238.8 L189.5,256.7 L189.7,256.9 M196.6,262.5 L210.0,273.6 L217.3,280.4 M223.8,286.4 L243.8,305.0 M250.1,311.3 L269.5,329.3 L270.1,329.8 M276.8,335.7 L284.0,341.6 L298.1,351.7 L298.6,352.1 M305.9,357.3 L310.0,360.2 L326.6,367.5 L329.8,370.0 M336.9,375.4 L337.8,376.1 L359.5,385.1 L362.1,385.8 M370.7,388.1 L380.0,390.6 L383.4,391.4 L394.8,398.6 L395.4,398.9 M403.2,403.2 L427.7,413.6 L428.3,413.8 M436.8,416.6 L440.3,417.6 L450.0,424.5 L458.9,430.5 M466.9,434.8 L490.9,447.4 M498.5,451.6 L512.0,458.0 L519.6,468.3 M524.6,475.7 L540.0,486.2 L547.8,489.3 M555.7,493.5 L568.7,507.6 M569.2,510.3 L569.8,512.9 M575.4,518.4 L576.1,521.8 L580.3,524.6 L583.9,526.1 L586.1,529.0 L592.2,532.6 L593.9,540.3 L603.0,544.9 L604.0,549.8 L605.6,552.3 M609.7,560.2 L622.0,565.2 L624.6,570.6 L626.6,577.9 M631.3,586.4 L638.6,594.8 L651.8,603.3 M658.4,609.3 L672.5,618.5 L676.1,627.6 M680.7,636.0 L698.9,653.0 L699.0,655.4 M700.1,664.5 L701.4,677.1 L705.3,691.2 M707.2,699.5 L714.7,725.6" fill="none" stroke="#0000ff" stroke-width="2.9" stroke-linejoin="round"/>
<path d="M140.7,248.3 L153.4,272.0 L153.6,272.4 M158.1,280.1 L169.4,293.5 L175.3,300.7 L175.6,301.0 M181.2,307.9 L196.8,325.1 L199.3,327.2 L200.0,327.7 M207.2,332.9 L212.4,336.1 L220.0,342.8 L227.7,348.7 L228.8,349.5 M236.1,354.6 L258.4,370.3 M265.7,375.5 L268.7,377.6 L280.0,389.9 L285.0,394.6 M291.5,400.7 L308.9,417.1 L311.1,419.6 M317.0,426.3 L325.8,436.4 L336.6,443.6 L337.2,444.3 M342.9,451.2 L354.7,465.3 L361.3,471.3 M367.8,477.3 L369.2,478.6 L380.6,499.9 M384.5,507.6 L397.0,524.9 L401.8,527.8 M410.5,531.7 L425.9,538.4 L436.5,540.4 M445.2,541.3 L472.2,543.6 M480.8,544.2 L497.2,545.8 L508.0,547.4 M516.3,549.0 L542.2,554.9 M550.1,560.0 L555.0,563.0 L568.4,578.1 M570.2,579.2 L572.4,580.6 M580.2,583.8 L602.2,599.5 M609.6,604.9 L611.3,606.2 L612.0,614.0 L613.6,630.6 M620.3,635.6 L646.3,644.3 M654.9,646.3 L670.0,652.2 L672.5,652.9 L676.9,659.8 M681.6,667.7 L688.8,679.5 L693.5,691.6 M696.4,700.2 L706.0,726.3" fill="none" stroke="#0000ff" stroke-width="2.9" stroke-linejoin="round"/>
<path d="M116.0,194.3 L117.0,194.8 L118.0,195.2 L119.0,195.7 L120.0,196.1 L121.0,196.6 L122.0,197.0 L123.0,197.4 L124.0,197.9 L125.0,198.3 L126.0,198.8 L127.0,199.2 L128.0,199.7 L129.0,200.1 L130.0,200.6 L131.0,201.0 L132.0,201.5 L133.0,201.9 L134.0,202.4 L135.0,202.8 L136.0,203.3 L137.0,203.7 L138.0,204.2 L139.0,204.6 L140.0,205.1 L141.0,205.6 L142.0,206.0 L143.0,206.5 L144.0,206.9 L145.0,207.4 L146.0,207.8 L147.0,208.3 L148.0,208.7 L149.0,209.2 L150.0,209.7 L151.0,210.1 L152.0,210.6 L153.0,211.0 L154.0,211.5 L155.0,212.0 L156.0,212.4 L157.0,212.9 L158.0,213.4 L159.0,213.8 L160.0,214.3 L161.0,214.8 L162.0,215.2 L163.0,215.7 L164.0,216.2 L165.0,216.6 L166.0,217.1 L167.0,217.6 L168.0,218.0 L169.0,218.5 L170.0,219.0 L171.0,219.4 L172.0,219.9 L173.0,220.4 L174.0,220.9 L175.0,221.3 L176.0,221.8 L177.0,222.3 L178.0,222.8 L179.0,223.2 L180.0,223.7 L181.0,224.2 L182.0,224.7 L183.0,225.1 L184.0,225.6 L185.0,226.1 L186.0,226.6 L187.0,227.1 L188.0,227.5 L189.0,228.0 L190.0,228.5 L191.0,229.0 L192.0,229.5 L193.0,230.0 L194.0,230.5 L195.0,230.9 L196.0,231.4 L197.0,231.9 L198.0,232.4 L199.0,232.9 L200.0,233.4 L201.0,233.9 L202.0,234.4 L203.0,234.9 L204.0,235.4 L205.0,235.9 L206.0,236.3 L207.0,236.8 L208.0,237.3 L209.0,237.8 L210.0,238.3 L211.0,238.8 L212.0,239.3 L213.0,239.8 L214.0,240.3 L215.0,240.8 L216.0,241.3 L217.0,241.8 L218.0,242.4 L219.0,242.9 L220.0,243.4 L221.0,243.9 L222.0,244.4 L223.0,244.9 L224.0,245.4 L225.0,245.9 L226.0,246.4 L227.0,246.9 L228.0,247.4 L229.0,248.0 L230.0,248.5 L231.0,249.0 L232.0,249.5 L233.0,250.0 L234.0,250.5 L235.0,251.1 L236.0,251.6 L237.0,252.1 L238.0,252.6 L239.0,253.1 L240.0,253.7 L241.0,254.2 L242.0,254.7 L243.0,255.2 L244.0,255.8 L245.0,256.3 L246.0,256.8 L247.0,257.3 L248.0,257.9 L249.0,258.4 L250.0,258.9 L251.0,259.5 L252.0,260.0 L253.0,260.5 L254.0,261.1 L255.0,261.6 L256.0,262.1 L257.0,262.7 L258.0,263.2 L259.0,263.8 L260.0,264.3 L261.0,264.9 L262.0,265.4 L263.0,265.9 L264.0,266.5 L265.0,267.0 L266.0,267.6 L267.0,268.1 L268.0,268.7 L269.0,269.2 L270.0,269.8 L271.0,270.3 L272.0,270.9 L273.0,271.4 L274.0,272.0 L275.0,272.5 L276.0,273.1 L277.0,273.7 L278.0,274.2 L279.0,274.8 L280.0,275.3 L281.0,275.9 L282.0,276.5 L283.0,277.0 L284.0,277.6 L285.0,278.2 L286.0,278.7 L287.0,279.3 L288.0,279.9 L289.0,280.4 L290.0,281.0 L291.0,281.6 L292.0,282.2 L293.0,282.7 L294.0,283.3 L295.0,283.9 L296.0,284.5 L297.0,285.0 L298.0,285.6 L299.0,286.2 L300.0,286.8 L301.0,287.4 L302.0,288.0 L303.0,288.5 L304.0,289.1 L305.0,289.7 L306.0,290.3 L307.0,290.9 L308.0,291.5 L309.0,292.1 L310.0,292.7 L311.0,293.3 L312.0,293.9 L313.0,294.5 L314.0,295.1 L315.0,295.7 L316.0,296.3 L317.0,296.9 L318.0,297.5 L319.0,298.1 L320.0,298.7 L321.0,299.3 L322.0,299.9 L323.0,300.5 L324.0,301.1 L325.0,301.7 L326.0,302.3 L327.0,303.0 L328.0,303.6 L329.0,304.2 L330.0,304.8 L331.0,305.4 L332.0,306.1 L333.0,306.7 L334.0,307.3 L335.0,307.9 L336.0,308.5 L337.0,309.2 L338.0,309.8 L339.0,310.4 L340.0,311.1 L341.0,311.7 L342.0,312.3 L343.0,313.0 L344.0,313.6 L345.0,314.2 L346.0,314.9 L347.0,315.5 L348.0,316.1 L349.0,316.8 L350.0,317.4 L351.0,318.1 L352.0,318.7 L353.0,319.4 L354.0,320.0 L355.0,320.7 L356.0,321.3 L357.0,322.0 L358.0,322.6 L359.0,323.3 L360.0,323.9 L361.0,324.6 L362.0,325.3 L363.0,325.9 L364.0,326.6 L365.0,327.2 L366.0,327.9 L367.0,328.6 L368.0,329.2 L369.0,329.9 L370.0,330.6 L371.0,331.2 L372.0,331.9 L373.0,332.6 L374.0,333.3 L375.0,333.9 L376.0,334.6 L377.0,335.3 L378.0,336.0 L379.0,336.7 L380.0,337.3 L381.0,338.0 L382.0,338.7 L383.0,339.4 L384.0,340.1 L385.0,340.8 L386.0,341.5 L387.0,342.2 L388.0,342.9 L389.0,343.6 L390.0,344.3 L391.0,345.0 L392.0,345.7 L393.0,346.4 L394.0,347.1 L395.0,347.8 L396.0,348.5 L397.0,349.2 L398.0,349.9 L399.0,350.6 L400.0,351.3 L401.0,352.0 L402.0,352.8 L403.0,353.5 L404.0,354.2 L405.0,354.9 L406.0,355.6 L407.0,356.4 L408.0,357.1 L409.0,357.8 L410.0,358.5 L411.0,359.3 L412.0,360.0 L413.0,360.7 L414.0,361.5 L415.0,362.2 L416.0,362.9 L417.0,363.7 L418.0,364.4 L419.0,365.2 L420.0,365.9 L421.0,366.7 L422.0,367.4 L423.0,368.1 L424.0,368.9 L425.0,369.6 L426.0,370.4 L427.0,371.2 L428.0,371.9 L429.0,372.7 L430.0,373.4 L431.0,374.2 L432.0,375.0 L433.0,375.7 L434.0,376.5 L435.0,377.3 L436.0,378.0 L437.0,378.8 L438.0,379.6 L439.0,380.3 L440.0,381.1 L441.0,381.9 L442.0,382.7 L443.0,383.5 L444.0,384.2 L445.0,385.0 L446.0,385.8 L447.0,386.6 L448.0,387.4 L449.0,388.2 L450.0,389.0 L451.0,389.8 L452.0,390.6 L453.0,391.3 L454.0,392.1 L455.0,392.9 L456.0,393.8 L457.0,394.6 L458.0,395.4 L459.0,396.2 L460.0,397.0 L461.0,397.8 L462.0,398.6 L463.0,399.4 L464.0,400.2 L465.0,401.1 L466.0,401.9 L467.0,402.7 L468.0,403.5 L469.0,404.3 L470.0,405.2 L471.0,406.0 L472.0,406.8 L473.0,407.7 L474.0,408.5 L475.0,409.3 L476.0,410.2 L477.0,411.0 L478.0,411.8 L479.0,412.7 L480.0,413.5 L481.0,414.4 L482.0,415.2 L483.0,416.1 L484.0,416.9 L485.0,417.8 L486.0,418.6 L487.0,419.5 L488.0,420.4 L489.0,421.2 L490.0,422.1 L491.0,422.9 L492.0,423.8 L493.0,424.7 L494.0,425.6 L495.0,426.4 L496.0,427.3 L497.0,428.2 L498.0,429.1 L499.0,429.9 L500.0,430.8 L501.0,431.7 L502.0,432.6 L503.0,433.5 L504.0,434.4 L505.0,435.2 L506.0,436.1 L507.0,437.0 L508.0,437.9 L509.0,438.8 L510.0,439.7 L511.0,440.6 L512.0,441.5 L513.0,442.4 L514.0,443.3 L515.0,444.3 L516.0,445.2 L517.0,446.1 L518.0,447.0 L519.0,447.9 L520.0,448.8 L521.0,449.8 L522.0,450.7 L523.0,451.6 L524.0,452.5 L525.0,453.5 L526.0,454.4 L527.0,455.3 L528.0,456.3 L529.0,457.2 L530.0,458.1 L531.0,459.1 L532.0,460.0 L533.0,461.0 L534.0,461.9 L535.0,462.9 L536.0,463.8 L537.0,464.8 L538.0,465.7 L539.0,466.7 L540.0,467.6 L541.0,468.6 L542.0,469.6 L543.0,470.5 L544.0,471.5 L545.0,472.5 L546.0,473.4 L547.0,474.4 L548.0,475.4 L549.0,476.4 L550.0,477.4 L551.0,478.3 L552.0,479.3 L553.0,480.3 L554.0,481.3 L555.0,482.3 L556.0,483.3 L557.0,484.3 L558.0,485.4 L559.0,486.4 L560.0,487.5 L561.0,488.5 L562.0,489.5 L563.0,490.6 L564.0,491.7 L565.0,492.7 L566.0,493.8 L567.0,494.8 L568.0,495.9 L569.0,496.9 L570.0,498.0 L571.0,499.0 L572.0,500.1 L573.0,501.1 L574.0,502.1 L575.0,503.2 L576.0,504.2 L577.0,505.2 L578.0,506.3 L579.0,507.3 L580.0,508.4 L581.0,509.4 L582.0,510.5 L583.0,511.5 L584.0,512.6 L585.0,513.7 L586.0,514.7 L587.0,515.8 L588.0,516.9 L589.0,517.9 L590.0,519.0 L591.0,520.1 L592.0,521.2 L593.0,522.3 L594.0,523.4 L595.0,524.5 L596.0,525.6 L597.0,526.7 L598.0,527.8 L599.0,528.9 L600.0,530.0 L601.0,531.1 L602.0,532.2 L603.0,533.2 L604.0,534.3 L605.0,535.3 L606.0,536.4 L607.0,537.5 L608.0,538.5 L609.0,539.6 L610.0,540.7 L611.0,541.8 L612.0,542.8 L613.0,543.9 L614.0,545.0 L615.0,546.1 L616.0,547.2 L617.0,548.2 L618.0,549.3 L619.0,550.4 L620.0,551.5 L621.0,552.6 L622.0,553.7 L623.0,554.8 L624.0,556.0 L625.0,557.1 L626.0,558.2 L627.0,559.3 L628.0,560.5 L629.0,561.6 L630.0,562.7 L631.0,563.8 L632.0,565.0 L633.0,566.1 L634.0,567.3 L635.0,568.4 L636.0,569.5 L637.0,570.7 L638.0,571.8 L639.0,573.0 L640.0,574.1 L641.0,575.3 L642.0,576.5 L643.0,577.6 L644.0,578.8 L645.0,580.0 L646.0,581.1 L647.0,582.3 L648.0,583.5 L649.0,584.7 L650.0,585.8 L651.0,587.0 L652.0,588.2 L653.0,589.4 L654.0,590.6 L655.0,591.8 L656.0,593.0 L657.0,594.2 L658.0,595.4 L659.0,596.6 L660.0,597.9 L661.0,599.1 L662.0,600.3 L663.0,601.5 L664.0,602.8 L665.0,604.0 L666.0,605.2 L667.0,606.5 L668.0,607.7 L669.0,609.0 L670.0,610.2 L671.0,611.5 L672.0,612.7 L673.0,614.0 L674.0,615.3 L675.0,616.5 L676.0,617.8 L677.0,619.1 L678.0,620.4 L679.0,621.7 L680.0,623.0 L681.0,624.3 L682.0,625.6 L683.0,626.9 L684.0,628.2 L685.0,629.5 L686.0,630.8 L687.0,632.1 L688.0,633.5 L689.0,634.8 L690.0,636.1 L691.0,637.5 L692.0,638.8 L693.0,640.2 L694.0,641.5 L695.0,642.9 L696.0,644.3 L697.0,645.6 L698.0,647.0 L699.0,648.4 L700.0,649.8 L701.0,651.1 L702.0,652.5 L703.0,653.9 L704.0,655.3 L705.0,656.7 L706.0,658.1 L707.0,659.5 L708.0,660.9 L709.0,662.3 L710.0,663.8 L711.0,665.2 L712.0,666.6 L713.0,668.1 L714.0,669.5 L715.0,671.0 L716.0,672.5 L717.0,673.9 L718.0,675.4 L719.0,676.9 L720.0,678.4 L721.0,679.8 L722.0,681.3 L723.0,682.9 L724.0,684.4 L725.0,685.9 L726.0,687.4 L727.0,688.9 L728.0,690.5 L729.0,692.0 L730.0,693.6 L731.0,695.1 L732.0,696.7 L733.0,698.3 L734.0,699.8 L735.0,701.4 L736.0,703.0 L737.0,704.6 L738.0,706.2 L739.0,707.8 L740.0,709.5 L741.0,711.1 L742.0,712.7 L743.0,714.4 L744.0,716.0 L745.0,717.7 L746.0,719.4 L747.0,721.0 L748.0,722.7 L749.0,724.4 L750.0,726.1 L751.0,727.8 L752.0,729.6 L753.0,731.3 L754.0,733.0 L755.0,734.8 L756.0,736.5 L757.0,738.3 L758.0,740.0 L759.0,741.8 L760.0,743.6 L761.0,745.4 L762.0,747.2" fill="none" stroke="#00ff00" stroke-width="2.7" stroke-dasharray="2.5 3.76"/>
<path d="M116.0,278.6 L117.0,279.1 L118.0,279.5 L119.0,279.9 L120.0,280.3 L121.0,280.7 L122.0,281.2 L123.0,281.6 L124.0,282.0 L125.0,282.4 L126.0,282.8 L127.0,283.3 L128.0,283.7 L129.0,284.1 L130.0,284.5 L131.0,285.0 L132.0,285.4 L133.0,285.8 L134.0,286.2 L135.0,286.6 L136.0,287.1 L137.0,287.5 L138.0,287.9 L139.0,288.3 L140.0,288.7 L141.0,289.1 L142.0,289.6 L143.0,290.0 L144.0,290.4 L145.0,290.8 L146.0,291.2 L147.0,291.7 L148.0,292.1 L149.0,292.5 L150.0,292.9 L151.0,293.3 L152.0,293.8 L153.0,294.2 L154.0,294.6 L155.0,295.0 L156.0,295.4 L157.0,295.9 L158.0,296.3 L159.0,296.7 L160.0,297.1 L161.0,297.5 L162.0,298.0 L163.0,298.4 L164.0,298.8 L165.0,299.2 L166.0,299.6 L167.0,300.0 L168.0,300.5 L169.0,300.9 L170.0,301.3 L171.0,301.7 L172.0,302.1 L173.0,302.6 L174.0,303.0 L175.0,303.4 L176.0,303.8 L177.0,304.2 L178.0,304.7 L179.0,305.1 L180.0,305.5 L181.0,305.9 L182.0,306.3 L183.0,306.8 L184.0,307.2 L185.0,307.6 L186.0,308.0 L187.0,308.5 L188.0,308.9 L189.0,309.3 L190.0,309.7 L191.0,310.1 L192.0,310.6 L193.0,311.0 L194.0,311.4 L195.0,311.8 L196.0,312.3 L197.0,312.7 L198.0,313.1 L199.0,313.5 L200.0,313.9 L201.0,314.4 L202.0,314.8 L203.0,315.2 L204.0,315.6 L205.0,316.1 L206.0,316.5 L207.0,316.9 L208.0,317.3 L209.0,317.8 L210.0,318.2 L211.0,318.6 L212.0,319.0 L213.0,319.5 L214.0,319.9 L215.0,320.3 L216.0,320.8 L217.0,321.2 L218.0,321.6 L219.0,322.0 L220.0,322.5 L221.0,322.9 L222.0,323.3 L223.0,323.8 L224.0,324.2 L225.0,324.6 L226.0,325.1 L227.0,325.5 L228.0,325.9 L229.0,326.3 L230.0,326.8 L231.0,327.2 L232.0,327.6 L233.0,328.1 L234.0,328.5 L235.0,328.9 L236.0,329.4 L237.0,329.8 L238.0,330.2 L239.0,330.7 L240.0,331.1 L241.0,331.6 L242.0,332.0 L243.0,332.4 L244.0,332.9 L245.0,333.3 L246.0,333.7 L247.0,334.2 L248.0,334.6 L249.0,335.1 L250.0,335.5 L251.0,335.9 L252.0,336.4 L253.0,336.8 L254.0,337.3 L255.0,337.7 L256.0,338.1 L257.0,338.6 L258.0,339.0 L259.0,339.5 L260.0,339.9 L261.0,340.4 L262.0,340.8 L263.0,341.3 L264.0,341.7 L265.0,342.2 L266.0,342.6 L267.0,343.0 L268.0,343.5 L269.0,343.9 L270.0,344.4 L271.0,344.8 L272.0,345.3 L273.0,345.7 L274.0,346.2 L275.0,346.7 L276.0,347.1 L277.0,347.6 L278.0,348.0 L279.0,348.5 L280.0,348.9 L281.0,349.4 L282.0,349.8 L283.0,350.3 L284.0,350.7 L285.0,351.2 L286.0,351.7 L287.0,352.1 L288.0,352.6 L289.0,353.0 L290.0,353.5 L291.0,354.0 L292.0,354.4 L293.0,354.9 L294.0,355.4 L295.0,355.8 L296.0,356.3 L297.0,356.8 L298.0,357.2 L299.0,357.7 L300.0,358.2 L301.0,358.6 L302.0,359.1 L303.0,359.6 L304.0,360.0 L305.0,360.5 L306.0,361.0 L307.0,361.4 L308.0,361.9 L309.0,362.4 L310.0,362.9 L311.0,363.3 L312.0,363.8 L313.0,364.3 L314.0,364.8 L315.0,365.2 L316.0,365.7 L317.0,366.2 L318.0,366.7 L319.0,367.2 L320.0,367.7 L321.0,368.1 L322.0,368.6 L323.0,369.1 L324.0,369.6 L325.0,370.1 L326.0,370.6 L327.0,371.0 L328.0,371.5 L329.0,372.0 L330.0,372.5 L331.0,373.0 L332.0,373.5 L333.0,374.0 L334.0,374.5 L335.0,375.0 L336.0,375.5 L337.0,376.0 L338.0,376.5 L339.0,377.0 L340.0,377.5 L341.0,378.0 L342.0,378.5 L343.0,379.0 L344.0,379.5 L345.0,380.0 L346.0,380.5 L347.0,381.0 L348.0,381.5 L349.0,382.0 L350.0,382.5 L351.0,383.0 L352.0,383.5 L353.0,384.0 L354.0,384.5 L355.0,385.0 L356.0,385.5 L357.0,386.1 L358.0,386.6 L359.0,387.1 L360.0,387.6 L361.0,388.1 L362.0,388.6 L363.0,389.2 L364.0,389.7 L365.0,390.2 L366.0,390.7 L367.0,391.2 L368.0,391.8 L369.0,392.3 L370.0,392.8 L371.0,393.3 L372.0,393.9 L373.0,394.4 L374.0,394.9 L375.0,395.5 L376.0,396.0 L377.0,396.5 L378.0,397.1 L379.0,397.6 L380.0,398.1 L381.0,398.7 L382.0,399.2 L383.0,399.7 L384.0,400.3 L385.0,400.8 L386.0,401.4 L387.0,401.9 L388.0,402.4 L389.0,403.0 L390.0,403.5 L391.0,404.1 L392.0,404.6 L393.0,405.2 L394.0,405.7 L395.0,406.3 L396.0,406.8 L397.0,407.4 L398.0,407.9 L399.0,408.5 L400.0,409.1 L401.0,409.6 L402.0,410.2 L403.0,410.7 L404.0,411.3 L405.0,411.9 L406.0,412.4 L407.0,413.0 L408.0,413.6 L409.0,414.1 L410.0,414.7 L411.0,415.3 L412.0,415.8 L413.0,416.4 L414.0,417.0 L415.0,417.6 L416.0,418.1 L417.0,418.7 L418.0,419.3 L419.0,419.9 L420.0,420.5 L421.0,421.0 L422.0,421.6 L423.0,422.2 L424.0,422.8 L425.0,423.4 L426.0,424.0 L427.0,424.6 L428.0,425.1 L429.0,425.7 L430.0,426.3 L431.0,426.9 L432.0,427.5 L433.0,428.1 L434.0,428.7 L435.0,429.3 L436.0,429.9 L437.0,430.5 L438.0,431.1 L439.0,431.7 L440.0,432.3 L441.0,432.9 L442.0,433.5 L443.0,434.2 L444.0,434.8 L445.0,435.4 L446.0,436.0 L447.0,436.6 L448.0,437.2 L449.0,437.8 L450.0,438.5 L451.0,439.1 L452.0,439.7 L453.0,440.3 L454.0,441.0 L455.0,441.6 L456.0,442.2 L457.0,442.8 L458.0,443.5 L459.0,444.1 L460.0,444.7 L461.0,445.4 L462.0,446.0 L463.0,446.6 L464.0,447.3 L465.0,447.9 L466.0,448.6 L467.0,449.2 L468.0,449.9 L469.0,450.5 L470.0,451.1 L471.0,451.8 L472.0,452.4 L473.0,453.1 L474.0,453.8 L475.0,454.4 L476.0,455.1 L477.0,455.7 L478.0,456.4 L479.0,457.0 L480.0,457.7 L481.0,458.4 L482.0,459.0 L483.0,459.7 L484.0,460.4 L485.0,461.0 L486.0,461.7 L487.0,462.4 L488.0,463.1 L489.0,463.7 L490.0,464.4 L491.0,465.1 L492.0,465.8 L493.0,466.5 L494.0,467.1 L495.0,467.8 L496.0,468.5 L497.0,469.2 L498.0,469.9 L499.0,470.6 L500.0,471.3 L501.0,472.0 L502.0,472.7 L503.0,473.4 L504.0,474.1 L505.0,474.8 L506.0,475.5 L507.0,476.2 L508.0,476.9 L509.0,477.6 L510.0,478.3 L511.0,479.0 L512.0,479.7 L513.0,480.5 L514.0,481.2 L515.0,481.9 L516.0,482.6 L517.0,483.3 L518.0,484.1 L519.0,484.8 L520.0,485.5 L521.0,486.3 L522.0,487.0 L523.0,487.7 L524.0,488.5 L525.0,489.2 L526.0,489.9 L527.0,490.7 L528.0,491.4 L529.0,492.2 L530.0,492.9 L531.0,493.7 L532.0,494.4 L533.0,495.2 L534.0,496.0 L535.0,496.7 L536.0,497.5 L537.0,498.2 L538.0,499.0 L539.0,499.8 L540.0,500.6 L541.0,501.3 L542.0,502.1 L543.0,502.9 L544.0,503.7 L545.0,504.4 L546.0,505.2 L547.0,506.0 L548.0,506.8 L549.0,507.6 L550.0,508.4 L551.0,509.2 L552.0,510.0 L553.0,510.8 L554.0,511.6 L555.0,512.4 L556.0,513.2 L557.0,514.0 L558.0,514.8 L559.0,515.6 L560.0,516.5 L561.0,517.3 L562.0,518.1 L563.0,518.9 L564.0,519.8 L565.0,520.6 L566.0,521.4 L567.0,522.3 L568.0,523.1 L569.0,523.9 L570.0,524.8 L571.0,525.6 L572.0,526.5 L573.0,527.3 L574.0,528.2 L575.0,529.0 L576.0,529.9 L577.0,530.8 L578.0,531.6 L579.0,532.5 L580.0,533.3 L581.0,534.2 L582.0,535.1 L583.0,536.0 L584.0,536.9 L585.0,537.7 L586.0,538.6 L587.0,539.5 L588.0,540.4 L589.0,541.3 L590.0,542.2 L591.0,543.1 L592.0,544.0 L593.0,544.9 L594.0,545.8 L595.0,546.7 L596.0,547.6 L597.0,548.5 L598.0,549.5 L599.0,550.4 L600.0,551.3 L601.0,552.2 L602.0,553.2 L603.0,554.1 L604.0,555.0 L605.0,556.0 L606.0,556.9 L607.0,557.9 L608.0,558.8 L609.0,559.8 L610.0,560.7 L611.0,561.7 L612.0,562.6 L613.0,563.6 L614.0,564.6 L615.0,565.5 L616.0,566.5 L617.0,567.5 L618.0,568.5 L619.0,569.5 L620.0,570.5 L621.0,571.4 L622.0,572.4 L623.0,573.4 L624.0,574.4 L625.0,575.4 L626.0,576.4 L627.0,577.5 L628.0,578.5 L629.0,579.5 L630.0,580.5 L631.0,581.5 L632.0,582.6 L633.0,583.6 L634.0,584.6 L635.0,585.7 L636.0,586.7 L637.0,587.8 L638.0,588.8 L639.0,589.9 L640.0,590.9 L641.0,592.0 L642.0,593.0 L643.0,594.1 L644.0,595.2 L645.0,596.3 L646.0,597.3 L647.0,598.4 L648.0,599.5 L649.0,600.6 L650.0,601.7 L651.0,602.8 L652.0,603.9 L653.0,605.0 L654.0,606.1 L655.0,607.2 L656.0,608.3 L657.0,609.5 L658.0,610.6 L659.0,611.7 L660.0,612.8 L661.0,614.0 L662.0,615.1 L663.0,616.3 L664.0,617.4 L665.0,618.6 L666.0,619.7 L667.0,620.9 L668.0,622.1 L669.0,623.2 L670.0,624.4 L671.0,625.6 L672.0,626.8 L673.0,628.0 L674.0,629.2 L675.0,630.4 L676.0,631.6 L677.0,632.8 L678.0,634.0 L679.0,635.2 L680.0,636.4 L681.0,637.6 L682.0,638.9 L683.0,640.1 L684.0,641.3 L685.0,642.6 L686.0,643.8 L687.0,645.1 L688.0,646.3 L689.0,647.6 L690.0,648.9 L691.0,650.1 L692.0,651.4 L693.0,652.7 L694.0,654.0 L695.0,655.2 L696.0,656.5 L697.0,657.8 L698.0,659.1 L699.0,660.4 L700.0,661.8 L701.0,663.1 L702.0,664.4 L703.0,665.7 L704.0,667.1 L705.0,668.4 L706.0,669.7 L707.0,671.1 L708.0,672.4 L709.0,673.8 L710.0,675.1 L711.0,676.5 L712.0,677.9 L713.0,679.3 L714.0,680.6 L715.0,682.0 L716.0,683.4 L717.0,684.8 L718.0,686.2 L719.0,687.6 L720.0,689.0 L721.0,690.5 L722.0,691.9 L723.0,693.3 L724.0,694.7 L725.0,696.2 L726.0,697.6 L727.0,699.1 L728.0,700.5 L729.0,702.0 L730.0,703.5 L731.0,704.9 L732.0,706.4 L733.0,707.9 L734.0,709.4 L735.0,710.9 L736.0,712.4 L737.0,713.9 L738.0,715.4 L739.0,716.9 L740.0,718.4 L741.0,719.9 L742.0,721.5 L743.0,723.0 L744.0,724.6 L745.0,726.1 L746.0,727.7 L747.0,729.2 L748.0,730.8 L749.0,732.4 L750.0,733.9 L751.0,735.5 L752.0,737.1 L753.0,738.7 L754.0,740.3 L755.0,741.9 L756.0,743.5 L757.0,745.1 L758.0,746.8 L759.0,748.4 L760.0,750.0 L761.0,751.7 L762.0,753.3" fill="none" stroke="#00ff00" stroke-width="2.7" stroke-dasharray="2.5 3.76"/>
</g>
<path d="M158.89,741.35 v-8.2 M158.89,44.9 v8.2 M184.03,741.35 v-8.2 M184.03,44.9 v8.2 M201.87,741.35 v-8.2 M201.87,44.9 v8.2 M215.71,741.35 v-8.2 M215.71,44.9 v8.2 M227.02,741.35 v-8.2 M227.02,44.9 v8.2 M236.58,741.35 v-8.2 M236.58,44.9 v8.2 M244.86,741.35 v-8.2 M244.86,44.9 v8.2 M252.17,741.35 v-8.2 M252.17,44.9 v8.2 M258.70,741.35 v-16.2 M258.70,44.9 v16.2 M301.69,741.35 v-8.2 M301.69,44.9 v8.2 M326.83,741.35 v-8.2 M326.83,44.9 v8.2 M344.67,741.35 v-8.2 M344.67,44.9 v8.2 M358.51,741.35 v-8.2 M358.51,44.9 v8.2 M369.82,741.35 v-8.2 M369.82,44.9 v8.2 M379.38,741.35 v-8.2 M379.38,44.9 v8.2 M387.66,741.35 v-8.2 M387.66,44.9 v8.2 M394.97,741.35 v-8.2 M394.97,44.9 v8.2 M401.50,741.35 v-16.2 M401.50,44.9 v16.2 M444.49,741.35 v-8.2 M444.49,44.9 v8.2 M469.63,741.35 v-8.2 M469.63,44.9 v8.2 M487.47,741.35 v-8.2 M487.47,44.9 v8.2 M501.31,741.35 v-8.2 M501.31,44.9 v8.2 M512.62,741.35 v-8.2 M512.62,44.9 v8.2 M522.18,741.35 v-8.2 M522.18,44.9 v8.2 M530.46,741.35 v-8.2 M530.46,44.9 v8.2 M537.77,741.35 v-8.2 M537.77,44.9 v8.2 M544.30,741.35 v-16.2 M544.30,44.9 v16.2 M587.29,741.35 v-8.2 M587.29,44.9 v8.2 M612.43,741.35 v-8.2 M612.43,44.9 v8.2 M630.27,741.35 v-8.2 M630.27,44.9 v8.2 M644.11,741.35 v-8.2 M644.11,44.9 v8.2 M655.42,741.35 v-8.2 M655.42,44.9 v8.2 M664.98,741.35 v-8.2 M664.98,44.9 v8.2 M673.26,741.35 v-8.2 M673.26,44.9 v8.2 M680.57,741.35 v-8.2 M680.57,44.9 v8.2 M687.10,741.35 v-16.2 M687.10,44.9 v16.2 M730.09,741.35 v-8.2 M730.09,44.9 v8.2 M755.23,741.35 v-8.2 M755.23,44.9 v8.2 M773.07,741.35 v-8.2 M773.07,44.9 v8.2 M786.91,741.35 v-8.2 M786.91,44.9 v8.2 M115.75,152.44 h8.2 M786.55,152.44 h-8.2 M115.75,125.32 h8.2 M786.55,125.32 h-8.2 M115.75,106.08 h8.2 M786.55,106.08 h-8.2 M115.75,91.16 h8.2 M786.55,91.16 h-8.2 M115.75,78.96 h8.2 M786.55,78.96 h-8.2 M115.75,68.65 h8.2 M786.55,68.65 h-8.2 M115.75,59.72 h8.2 M786.55,59.72 h-8.2 M115.75,51.85 h8.2 M786.55,51.85 h-8.2 M115.75,198.80 h16.2 M786.55,198.80 h-16.2 M115.75,306.44 h8.2 M786.55,306.44 h-8.2 M115.75,279.32 h8.2 M786.55,279.32 h-8.2 M115.75,260.08 h8.2 M786.55,260.08 h-8.2 M115.75,245.16 h8.2 M786.55,245.16 h-8.2 M115.75,232.96 h8.2 M786.55,232.96 h-8.2 M115.75,222.65 h8.2 M786.55,222.65 h-8.2 M115.75,213.72 h8.2 M786.55,213.72 h-8.2 M115.75,205.85 h8.2 M786.55,205.85 h-8.2 M115.75,352.80 h16.2 M786.55,352.80 h-16.2 M115.75,460.44 h8.2 M786.55,460.44 h-8.2 M115.75,433.32 h8.2 M786.55,433.32 h-8.2 M115.75,414.08 h8.2 M786.55,414.08 h-8.2 M115.75,399.16 h8.2 M786.55,399.16 h-8.2 M115.75,386.96 h8.2 M786.55,386.96 h-8.2 M115.75,376.65 h8.2 M786.55,376.65 h-8.2 M115.75,367.72 h8.2 M786.55,367.72 h-8.2 M115.75,359.85 h8.2 M786.55,359.85 h-8.2 M115.75,506.80 h16.2 M786.55,506.80 h-16.2 M115.75,614.44 h8.2 M786.55,614.44 h-8.2 M115.75,587.32 h8.2 M786.55,587.32 h-8.2 M115.75,568.08 h8.2 M786.55,568.08 h-8.2 M115.75,553.16 h8.2 M786.55,553.16 h-8.2 M115.75,540.96 h8.2 M786.55,540.96 h-8.2 M115.75,530.65 h8.2 M786.55,530.65 h-8.2 M115.75,521.72 h8.2 M786.55,521.72 h-8.2 M115.75,513.85 h8.2 M786.55,513.85 h-8.2 M115.75,660.80 h16.2 M786.55,660.80 h-16.2 M115.75,741.32 h8.2 M786.55,741.32 h-8.2 M115.75,722.08 h8.2 M786.55,722.08 h-8.2 M115.75,707.16 h8.2 M786.55,707.16 h-8.2 M115.75,694.96 h8.2 M786.55,694.96 h-8.2 M115.75,684.65 h8.2 M786.55,684.65 h-8.2 M115.75,675.72 h8.2 M786.55,675.72 h-8.2 M115.75,667.85 h8.2 M786.55,667.85 h-8.2" fill="none" stroke="#000" stroke-width="2.3" />
<rect x="115.75" y="44.9" width="670.8" height="696.45" fill="none" stroke="#000" stroke-width="2.8" stroke-linejoin="round"/>
<path d="M103.93,755.30 V772.63" fill="none" stroke="#000" stroke-width="3.51" />
<path d="M101.25,759.33 L105.08,756.24" fill="none" stroke="#000" stroke-width="2.54" stroke-linecap="round"/>
<path d="M99.90,772.63 H107.45" fill="none" stroke="#000" stroke-width="2.54" />
<path d="M111.85,764.50 A7.05,9.50 0 1 0 125.95,764.50 A7.05,9.50 0 1 0 111.85,764.50 Z M115.10,764.50 A3.80,6.96 0 1 0 122.70,764.50 A3.80,6.96 0 1 0 115.10,764.50 Z" fill="#000" fill-rule="evenodd"/>
<path transform="matrix(0.00827 0 0 -0.00821 126.76 766.34)" d="M1063 727Q1063 352 926 166Q789 -20 537 -20Q351 -20 246 60Q140 139 96 311L360 348Q399 201 540 201Q658 201 722 314Q785 427 787 649Q749 574 662 532Q576 489 476 489Q290 489 180 616Q71 742 71 958Q71 1180 200 1305Q328 1430 563 1430Q816 1430 940 1254Q1063 1079 1063 727ZM766 924Q766 1055 708 1132Q651 1210 556 1210Q463 1210 410 1142Q356 1075 356 956Q356 839 409 768Q462 698 557 698Q647 698 706 760Q766 821 766 924Z" fill="#000" stroke="#000" stroke-width="0.7" vector-effect="non-scaling-stroke" stroke-linejoin="round"/>
<path d="M241.93,755.30 V772.63" fill="none" stroke="#000" stroke-width="3.51" />
<path d="M239.25,759.33 L243.08,756.24" fill="none" stroke="#000" stroke-width="2.54" stroke-linecap="round"/>
<path d="M237.90,772.63 H245.45" fill="none" stroke="#000" stroke-width="2.54" />
<path d="M249.85,764.50 A7.05,9.50 0 1 0 263.95,764.50 A7.05,9.50 0 1 0 249.85,764.50 Z M253.10,764.50 A3.80,6.96 0 1 0 260.70,764.50 A3.80,6.96 0 1 0 253.10,764.50 Z" fill="#000" fill-rule="evenodd"/>
<path d="M269.65,754.60 V765.57" fill="none" stroke="#000" stroke-width="3.13" />
<path d="M268.30,757.17 L270.62,755.42" fill="none" stroke="#000" stroke-width="2.26" stroke-linecap="round"/>
<path d="M266.95,765.57 H271.85" fill="none" stroke="#000" stroke-width="2.26" />
<path d="M273.85,760.55 A4.70,6.25 0 1 0 283.25,760.55 A4.70,6.25 0 1 0 273.85,760.55 Z M276.75,760.55 A1.80,3.99 0 1 0 280.35,760.55 A1.80,3.99 0 1 0 276.75,760.55 Z" fill="#000" fill-rule="evenodd"/>
<path d="M384.73,755.30 V772.63" fill="none" stroke="#000" stroke-width="3.51" />
<path d="M382.05,759.33 L385.88,756.24" fill="none" stroke="#000" stroke-width="2.54" stroke-linecap="round"/>
<path d="M380.70,772.63 H388.25" fill="none" stroke="#000" stroke-width="2.54" />
<path d="M392.65,764.50 A7.05,9.50 0 1 0 406.75,764.50 A7.05,9.50 0 1 0 392.65,764.50 Z M395.90,764.50 A3.80,6.96 0 1 0 403.50,764.50 A3.80,6.96 0 1 0 395.90,764.50 Z" fill="#000" fill-rule="evenodd"/>
<path d="M412.45,754.60 V765.57" fill="none" stroke="#000" stroke-width="3.13" />
<path d="M411.10,757.17 L413.42,755.42" fill="none" stroke="#000" stroke-width="2.26" stroke-linecap="round"/>
<path d="M409.75,765.57 H414.65" fill="none" stroke="#000" stroke-width="2.26" />
<path d="M421.98,754.60 V765.57" fill="none" stroke="#000" stroke-width="3.13" />
<path d="M420.60,757.17 L422.94,755.42" fill="none" stroke="#000" stroke-width="2.26" stroke-linecap="round"/>
<path d="M419.25,765.57 H424.20" fill="none" stroke="#000" stroke-width="2.26" />
<path d="M527.53,755.30 V772.63" fill="none" stroke="#000" stroke-width="3.51" />
<path d="M524.85,759.33 L528.68,756.24" fill="none" stroke="#000" stroke-width="2.54" stroke-linecap="round"/>
<path d="M523.50,772.63 H531.05" fill="none" stroke="#000" stroke-width="2.54" />
<path d="M535.45,764.50 A7.05,9.50 0 1 0 549.55,764.50 A7.05,9.50 0 1 0 535.45,764.50 Z M538.70,764.50 A3.80,6.96 0 1 0 546.30,764.50 A3.80,6.96 0 1 0 538.70,764.50 Z" fill="#000" fill-rule="evenodd"/>
<path d="M555.25,754.60 V765.57" fill="none" stroke="#000" stroke-width="3.13" />
<path d="M553.90,757.17 L556.22,755.42" fill="none" stroke="#000" stroke-width="2.26" stroke-linecap="round"/>
<path d="M552.55,765.57 H557.45" fill="none" stroke="#000" stroke-width="2.26" />
<path transform="matrix(0.00892 0 0 -0.00832 559.12 766.50)" d="M71 0V195Q126 316 228 431Q329 546 483 671Q631 791 690 869Q750 947 750 1022Q750 1206 565 1206Q475 1206 428 1158Q380 1109 366 1012L83 1028Q107 1224 230 1327Q352 1430 563 1430Q791 1430 913 1326Q1035 1222 1035 1034Q1035 935 996 855Q957 775 896 708Q835 640 760 581Q686 522 616 466Q546 410 488 353Q431 296 403 231H1057V0Z" fill="#000" stroke="#000" stroke-width="0.7" vector-effect="non-scaling-stroke" stroke-linejoin="round"/>
<path d="M670.33,755.30 V772.63" fill="none" stroke="#000" stroke-width="3.51" />
<path d="M667.65,759.33 L671.48,756.24" fill="none" stroke="#000" stroke-width="2.54" stroke-linecap="round"/>
<path d="M666.30,772.63 H673.85" fill="none" stroke="#000" stroke-width="2.54" />
<path d="M678.25,764.50 A7.05,9.50 0 1 0 692.35,764.50 A7.05,9.50 0 1 0 678.25,764.50 Z M681.50,764.50 A3.80,6.96 0 1 0 689.10,764.50 A3.80,6.96 0 1 0 681.50,764.50 Z" fill="#000" fill-rule="evenodd"/>
<path d="M698.05,754.60 V765.57" fill="none" stroke="#000" stroke-width="3.13" />
<path d="M696.70,757.17 L699.02,755.42" fill="none" stroke="#000" stroke-width="2.26" stroke-linecap="round"/>
<path d="M695.35,765.57 H700.25" fill="none" stroke="#000" stroke-width="2.26" />
<path transform="matrix(0.00864 0 0 -0.00819 702.14 766.31)" d="M1065 391Q1065 193 935 85Q805 -23 565 -23Q338 -23 204 82Q70 186 47 383L333 408Q360 205 564 205Q665 205 721 255Q777 305 777 408Q777 502 709 552Q641 602 507 602H409V829H501Q622 829 683 878Q744 928 744 1020Q744 1107 696 1156Q647 1206 554 1206Q467 1206 414 1158Q360 1110 352 1022L71 1042Q93 1224 222 1327Q351 1430 559 1430Q780 1430 904 1330Q1029 1231 1029 1055Q1029 923 952 838Q874 753 728 725V721Q890 702 978 614Q1065 527 1065 391Z" fill="#000" stroke="#000" stroke-width="0.7" vector-effect="non-scaling-stroke" stroke-linejoin="round"/>
<path d="M94.35,35.50 V53.23" fill="none" stroke="#000" stroke-width="3.51" />
<path d="M91.35,39.62 L95.50,36.44" fill="none" stroke="#000" stroke-width="2.54" stroke-linecap="round"/>
<path d="M90.00,53.23 H98.20" fill="none" stroke="#000" stroke-width="2.54" />
<path d="M62.90,198.85 A7.25,9.75 0 1 0 77.40,198.85 A7.25,9.75 0 1 0 62.90,198.85 Z M66.15,198.85 A4.00,7.21 0 1 0 74.15,198.85 A4.00,7.21 0 1 0 66.15,198.85 Z" fill="#000" fill-rule="evenodd"/>
<circle cx="81.9" cy="206.7" r="2.0" fill="#000"/>
<path d="M94.35,189.60 V207.33" fill="none" stroke="#000" stroke-width="3.51" />
<path d="M91.35,193.72 L95.50,190.54" fill="none" stroke="#000" stroke-width="2.54" stroke-linecap="round"/>
<path d="M90.00,207.33 H98.20" fill="none" stroke="#000" stroke-width="2.54" />
<path d="M56.85,344.10 V361.83" fill="none" stroke="#000" stroke-width="3.51" />
<path d="M53.95,348.22 L58.01,345.04" fill="none" stroke="#000" stroke-width="2.54" stroke-linecap="round"/>
<path d="M52.60,361.83 H60.60" fill="none" stroke="#000" stroke-width="2.54" />
<path d="M65.00,353.50 A7.05,9.70 0 1 0 79.10,353.50 A7.05,9.70 0 1 0 65.00,353.50 Z M68.25,353.50 A3.80,7.16 0 1 0 75.85,353.50 A3.80,7.16 0 1 0 68.25,353.50 Z" fill="#000" fill-rule="evenodd"/>
<path d="M81.9,349.50 h8.3" fill="none" stroke="#000" stroke-width="2.2" />
<path transform="matrix(0.00892 0 0 -0.00825 91.57 355.10)" d="M71 0V195Q126 316 228 431Q329 546 483 671Q631 791 690 869Q750 947 750 1022Q750 1206 565 1206Q475 1206 428 1158Q380 1109 366 1012L83 1028Q107 1224 230 1327Q352 1430 563 1430Q791 1430 913 1326Q1035 1222 1035 1034Q1035 935 996 855Q957 775 896 708Q835 640 760 581Q686 522 616 466Q546 410 488 353Q431 296 403 231H1057V0Z" fill="#000" stroke="#000" stroke-width="0.8" vector-effect="non-scaling-stroke" stroke-linejoin="round"/>
<path d="M56.85,498.10 V515.83" fill="none" stroke="#000" stroke-width="3.51" />
<path d="M53.95,502.22 L58.01,499.04" fill="none" stroke="#000" stroke-width="2.54" stroke-linecap="round"/>
<path d="M52.60,515.83 H60.60" fill="none" stroke="#000" stroke-width="2.54" />
<path d="M65.00,507.50 A7.05,9.70 0 1 0 79.10,507.50 A7.05,9.70 0 1 0 65.00,507.50 Z M68.25,507.50 A3.80,7.17 0 1 0 75.85,507.50 A3.80,7.17 0 1 0 68.25,507.50 Z" fill="#000" fill-rule="evenodd"/>
<path d="M81.9,503.50 h8.3" fill="none" stroke="#000" stroke-width="2.2" />
<path transform="matrix(0.00864 0 0 -0.00812 91.79 508.91)" d="M1065 391Q1065 193 935 85Q805 -23 565 -23Q338 -23 204 82Q70 186 47 383L333 408Q360 205 564 205Q665 205 721 255Q777 305 777 408Q777 502 709 552Q641 602 507 602H409V829H501Q622 829 683 878Q744 928 744 1020Q744 1107 696 1156Q647 1206 554 1206Q467 1206 414 1158Q360 1110 352 1022L71 1042Q93 1224 222 1327Q351 1430 559 1430Q780 1430 904 1330Q1029 1231 1029 1055Q1029 923 952 838Q874 753 728 725V721Q890 702 978 614Q1065 527 1065 391Z" fill="#000" stroke="#000" stroke-width="0.8" vector-effect="non-scaling-stroke" stroke-linejoin="round"/>
<path d="M56.85,652.10 V669.83" fill="none" stroke="#000" stroke-width="3.51" />
<path d="M53.95,656.22 L58.01,653.04" fill="none" stroke="#000" stroke-width="2.54" stroke-linecap="round"/>
<path d="M52.60,669.83 H60.60" fill="none" stroke="#000" stroke-width="2.54" />
<path d="M65.00,661.50 A7.05,9.70 0 1 0 79.10,661.50 A7.05,9.70 0 1 0 65.00,661.50 Z M68.25,661.50 A3.80,7.17 0 1 0 75.85,661.50 A3.80,7.17 0 1 0 68.25,661.50 Z" fill="#000" fill-rule="evenodd"/>
<path d="M81.9,657.50 h8.3" fill="none" stroke="#000" stroke-width="2.2" />
<path transform="matrix(0.00802 0 0 -0.00837 91.95 663.10)" d="M940 287V0H672V287H31V498L626 1409H940V496H1128V287ZM672 957Q672 1011 676 1074Q679 1137 681 1155Q655 1099 587 993L260 496H672Z" fill="#000" stroke="#000" stroke-width="0.8" vector-effect="non-scaling-stroke" stroke-linejoin="round"/>
<g transform="translate(403.10 812.70) scale(0.9850 0.9864)" fill="none" stroke="#0000ff">
<path d="M2.5,-22 V0 M17.5,-22 V0" stroke-width="3.3" />
<path d="M2.6,-21.4 L10,-0.6 L17.4,-21.4" stroke-width="3.1" stroke-linejoin="bevel"/>
<path d="M0,-20.85 H3 M17,-20.85 H20 M0,-1.15 H5.6 M14.4,-1.15 H20" stroke-width="2.4" />
</g>
<g transform="translate(452.10 812.70) scale(0.9800 0.9864)" fill="none" stroke="#0000ff">
<path d="M2.5,-22 V0 M17.5,-22 V0" stroke-width="3.3" />
<path d="M2.6,-21.4 L10,-0.6 L17.4,-21.4" stroke-width="3.1" stroke-linejoin="bevel"/>
<path d="M0,-20.85 H3 M17,-20.85 H20 M0,-1.15 H5.6 M14.4,-1.15 H20" stroke-width="2.4" />
</g>
<path d="M448.9,788.45 H442.7 V817.75 H448.9" fill="none" stroke="#0000ff" stroke-width="2.5" />
<path d="M442.7,787.2 V819" fill="none" stroke="#0000ff" stroke-width="3.6" />
<path d="M490.2,788.45 H496.3 V817.75 H490.2" fill="none" stroke="#0000ff" stroke-width="2.5" />
<path d="M496.3,787.2 V819" fill="none" stroke="#0000ff" stroke-width="3.6" />
<circle cx="480.6" cy="814.2" r="5.95" fill="none" stroke="#0000ff" stroke-width="2.5"/>
<circle cx="480.6" cy="814.2" r="2.7" fill="#0000ff"/>
<g transform="translate(28.90 502.80) rotate(-90)" fill="none" stroke="#0000ff">
<path d="M3.0,-15.9 V0 M3.0,-10.2 C4.0,-13.2 6.6,-14.5 8.8,-14.5 C11.8,-14.5 13.7,-12.8 13.7,-9.6 V0" stroke-width="3.3" />
<path d="M0,-14.75 H3 M0,-1.15 H6.4 M10.3,-1.15 H16.7" stroke-width="2.4" />
</g>
<path d="M3.6,474.4 Q19.4,490.6 35.2,474.4 L33.6,472.8 Q19.4,484.2 5.2,472.8 Z" fill="#0000ff"/>
<path d="M10.8,466.8 L19.3,451.4 L27.7,466.8" fill="none" stroke="#0000ff" stroke-width="2.3" stroke-linejoin="miter"/>
<g transform="translate(28.90 446.00) rotate(-90)" fill="none" stroke="#0000ff">
<path d="M2.5,-22 V0 M17.5,-22 V0" stroke-width="3.3" />
<path d="M2.6,-21.4 L10,-0.6 L17.4,-21.4" stroke-width="3.1" stroke-linejoin="bevel"/>
<path d="M0,-20.85 H3 M17,-20.85 H20 M0,-1.15 H5.6 M14.4,-1.15 H20" stroke-width="2.4" />
</g>
<path d="M3.6,420.6 Q19.4,404.4 35.2,420.6 L33.6,422.2 Q19.4,410.8 5.2,422.2 Z" fill="#0000ff"/>
<path d="M4.15,385.2 V391.6 H34.55 V385.2" fill="none" stroke="#0000ff" stroke-width="2.5" />
<path d="M2.9,391.7 H35.8" fill="none" stroke="#0000ff" stroke-width="3.8" />
<g transform="translate(28.90 380.95) rotate(-90)" fill="none" stroke="#0000ff">
<path d="M2.5,-22 V0 M17.5,-22 V0" stroke-width="3.3" />
<path d="M2.6,-21.4 L10,-0.6 L17.4,-21.4" stroke-width="3.1" stroke-linejoin="bevel"/>
<path d="M0,-20.85 H3 M17,-20.85 H20 M0,-1.15 H5.6 M14.4,-1.15 H20" stroke-width="2.4" />
</g>
<g transform="translate(28.90 357.00) rotate(-90)" fill="none" stroke="#0000ff">
<path d="M3.2,-15.9 V6.9" stroke-width="3.3" />
<path d="M3.2,-11.2 C4.6,-13.4 6.6,-14.3 9.0,-14.3 C12.7,-14.3 14.95,-11.6 14.95,-7.9 C14.95,-4.2 12.7,-1.5 9.0,-1.5 C6.6,-1.5 4.6,-2.4 3.2,-4.6" stroke-width="3.3" />
<path d="M0,-14.75 H3.2 M0,5.75 H6.6" stroke-width="2.4" />
</g>
<g transform="translate(28.90 337.80) rotate(-90)" fill="none" stroke="#0000ff">
<path d="M13.2,-12.3 C11.9,-13.8 10.0,-14.4 8.0,-14.4 C4.2,-14.4 1.6,-11.7 1.6,-7.95 C1.6,-4.2 4.2,-1.5 8.0,-1.5 C10.6,-1.45 12.6,-2.6 14.0,-4.9" stroke-width="3.3" stroke-linecap="butt"/>
<circle cx="12.6" cy="-12.3" r="2.25" fill="#0000ff" stroke="none"/>
</g>
<path d="M13.95,319 V308.6" fill="none" stroke="#0000ff" stroke-width="2.5" />
<path transform="matrix(0 -0.01002 -0.00964 0 19.68 306.17)" d="M1065 391Q1065 193 935 85Q805 -23 565 -23Q338 -23 204 82Q70 186 47 383L333 408Q360 205 564 205Q665 205 721 255Q777 305 777 408Q777 502 709 552Q641 602 507 602H409V829H501Q622 829 683 878Q744 928 744 1020Q744 1107 696 1156Q647 1206 554 1206Q467 1206 414 1158Q360 1110 352 1022L71 1042Q93 1224 222 1327Q351 1430 559 1430Q780 1430 904 1330Q1029 1231 1029 1055Q1029 923 952 838Q874 753 728 725V721Q890 702 978 614Q1065 527 1065 391Z" fill="#0000ff" stroke="#0000ff" stroke-width="0.7" vector-effect="non-scaling-stroke" stroke-linejoin="round"/>
<path d="M4.15,292.3 V285.9 H34.55 V292.3" fill="none" stroke="#0000ff" stroke-width="2.5" />
<path d="M2.9,285.8 H35.8" fill="none" stroke="#0000ff" stroke-width="3.8" />
</svg>
</body></html>
